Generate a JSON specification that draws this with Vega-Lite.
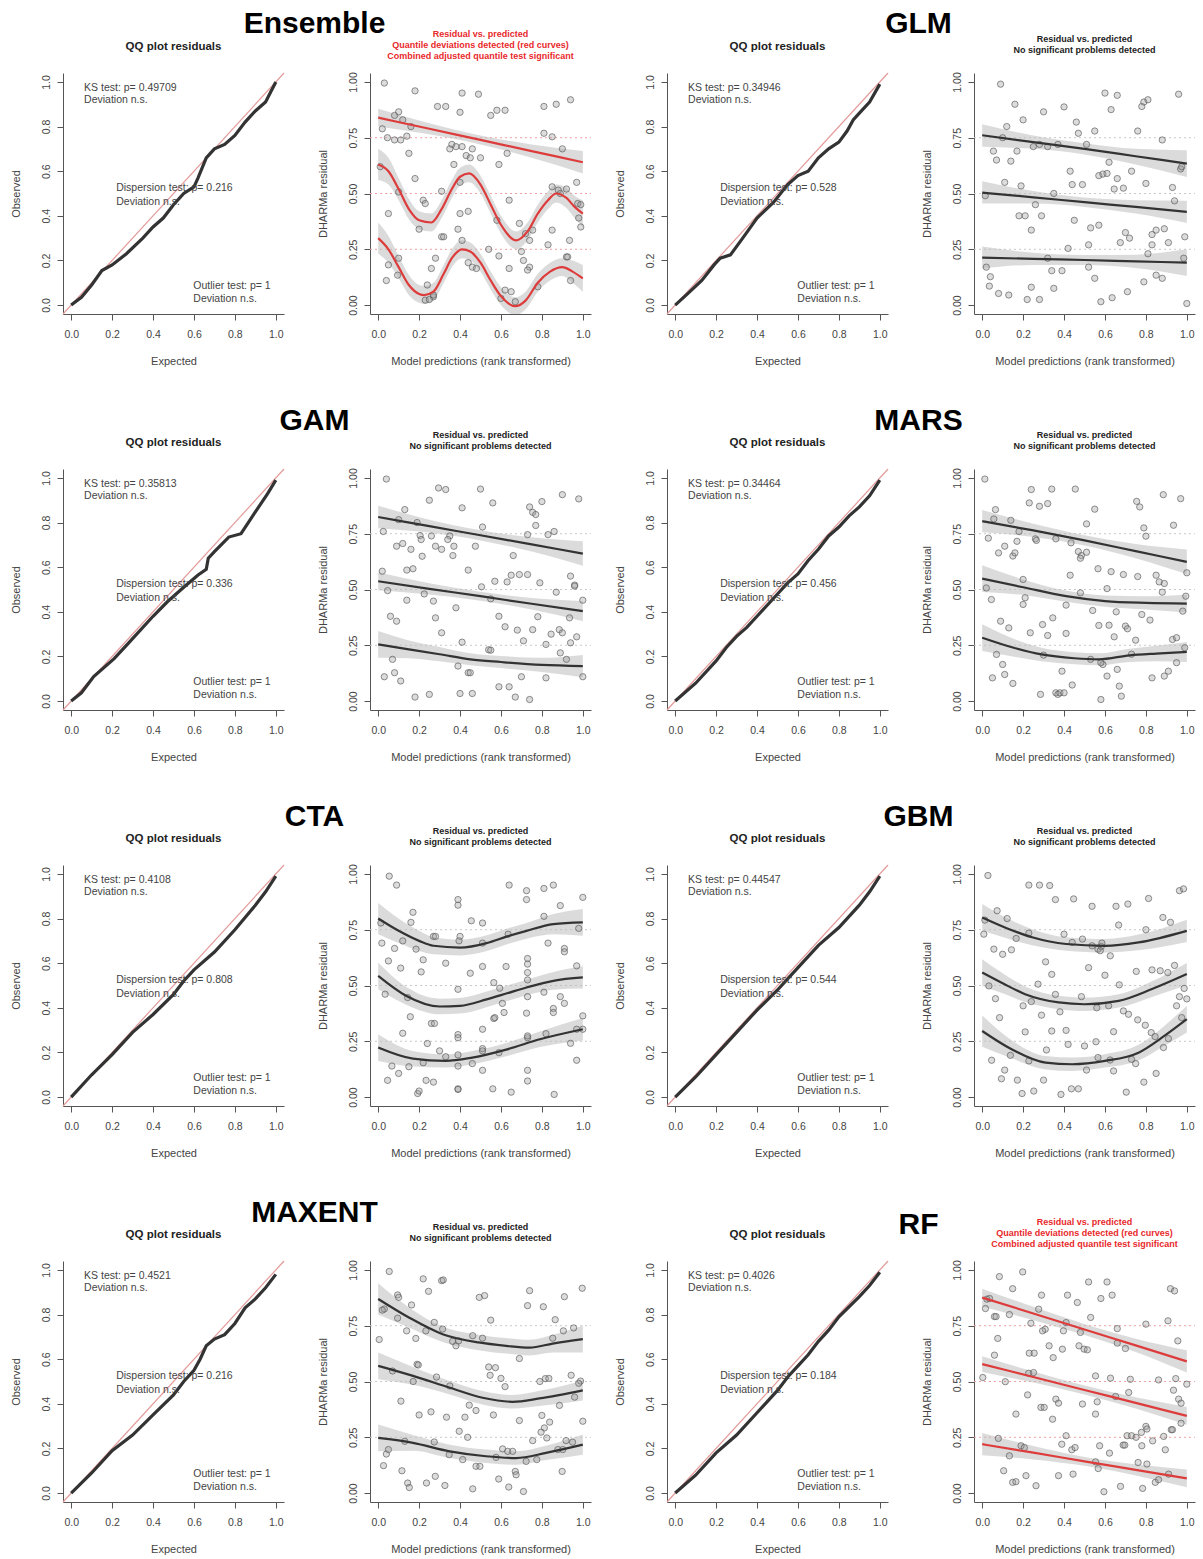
{
"$schema":"https://vega.github.io/schema/vega-lite/v6.json",
"padding":{"left":9,"top":8,"right":5,"bottom":2},
"config":{"font":"Liberation Sans","view":{"stroke":null},
"axis":{"grid":false,"domainColor":"#555","tickColor":"#555","tickSize":6,"labelFontSize":10.5,"labelColor":"#444","titleFontSize":11,"titleFontWeight":"normal","titleColor":"#444","labelFlush":false,"labelOverlap":false,"labelPadding":6},
"axisX":{"titlePadding":16,"labelPadding":9},"axisY":{"titlePadding":20,"labelAngle":270},
"title":{"font":"Liberation Sans"}},
"datasets":{
"diag":[{"x":-0.04,"y":-0.04},{"x":1.04,"y":1.04}],
"hl":[{"k":"a","x":-0.04,"y":0.25},{"k":"a","x":1.04,"y":0.25},{"k":"b","x":-0.04,"y":0.5},{"k":"b","x":1.04,"y":0.5},{"k":"c","x":-0.04,"y":0.75},{"k":"c","x":1.04,"y":0.75}],
"t":[
{"m":"E","x":0.063,"y":0.973,"t":"KS test: p= 0.49709"},{"m":"E","x":0.063,"y":0.919,"t":"Deviation  n.s."},{"m":"E","x":0.22,"y":0.525,"t":"Dispersion test: p= 0.216"},{"m":"E","x":0.22,"y":0.462,"t":"Deviation  n.s."},{"m":"E","x":0.597,"y":0.085,"t":"Outlier test: p= 1"},{"m":"E","x":0.597,"y":0.027,"t":"Deviation  n.s."},
{"m":"GLM","x":0.063,"y":0.973,"t":"KS test: p= 0.34946"},{"m":"GLM","x":0.063,"y":0.919,"t":"Deviation  n.s."},{"m":"GLM","x":0.22,"y":0.525,"t":"Dispersion test: p= 0.528"},{"m":"GLM","x":0.22,"y":0.462,"t":"Deviation  n.s."},{"m":"GLM","x":0.597,"y":0.085,"t":"Outlier test: p= 1"},{"m":"GLM","x":0.597,"y":0.027,"t":"Deviation  n.s."},
{"m":"GAM","x":0.063,"y":0.973,"t":"KS test: p= 0.35813"},{"m":"GAM","x":0.063,"y":0.919,"t":"Deviation  n.s."},{"m":"GAM","x":0.22,"y":0.525,"t":"Dispersion test: p= 0.336"},{"m":"GAM","x":0.22,"y":0.462,"t":"Deviation  n.s."},{"m":"GAM","x":0.597,"y":0.085,"t":"Outlier test: p= 1"},{"m":"GAM","x":0.597,"y":0.027,"t":"Deviation  n.s."},
{"m":"MARS","x":0.063,"y":0.973,"t":"KS test: p= 0.34464"},{"m":"MARS","x":0.063,"y":0.919,"t":"Deviation  n.s."},{"m":"MARS","x":0.22,"y":0.525,"t":"Dispersion test: p= 0.456"},{"m":"MARS","x":0.22,"y":0.462,"t":"Deviation  n.s."},{"m":"MARS","x":0.597,"y":0.085,"t":"Outlier test: p= 1"},{"m":"MARS","x":0.597,"y":0.027,"t":"Deviation  n.s."},
{"m":"CTA","x":0.063,"y":0.973,"t":"KS test: p= 0.4108"},{"m":"CTA","x":0.063,"y":0.919,"t":"Deviation  n.s."},{"m":"CTA","x":0.22,"y":0.525,"t":"Dispersion test: p= 0.808"},{"m":"CTA","x":0.22,"y":0.462,"t":"Deviation  n.s."},{"m":"CTA","x":0.597,"y":0.085,"t":"Outlier test: p= 1"},{"m":"CTA","x":0.597,"y":0.027,"t":"Deviation  n.s."},
{"m":"GBM","x":0.063,"y":0.973,"t":"KS test: p= 0.44547"},{"m":"GBM","x":0.063,"y":0.919,"t":"Deviation  n.s."},{"m":"GBM","x":0.22,"y":0.525,"t":"Dispersion test: p= 0.544"},{"m":"GBM","x":0.22,"y":0.462,"t":"Deviation  n.s."},{"m":"GBM","x":0.597,"y":0.085,"t":"Outlier test: p= 1"},{"m":"GBM","x":0.597,"y":0.027,"t":"Deviation  n.s."},
{"m":"MAX","x":0.063,"y":0.973,"t":"KS test: p= 0.4521"},{"m":"MAX","x":0.063,"y":0.919,"t":"Deviation  n.s."},{"m":"MAX","x":0.22,"y":0.525,"t":"Dispersion test: p= 0.216"},{"m":"MAX","x":0.22,"y":0.462,"t":"Deviation  n.s."},{"m":"MAX","x":0.597,"y":0.085,"t":"Outlier test: p= 1"},{"m":"MAX","x":0.597,"y":0.027,"t":"Deviation  n.s."},
{"m":"RF","x":0.063,"y":0.973,"t":"KS test: p= 0.4026"},{"m":"RF","x":0.063,"y":0.919,"t":"Deviation  n.s."},{"m":"RF","x":0.22,"y":0.525,"t":"Dispersion test: p= 0.184"},{"m":"RF","x":0.22,"y":0.462,"t":"Deviation  n.s."},{"m":"RF","x":0.597,"y":0.085,"t":"Outlier test: p= 1"},{"m":"RF","x":0.597,"y":0.027,"t":"Deviation  n.s."}
],
"qq":[
{"m":"E","x":0,"y":0},{"m":"E","x":0.05,"y":0.035},{"m":"E","x":0.1,"y":0.09},{"m":"E","x":0.15,"y":0.155},{"m":"E","x":0.2,"y":0.18},{"m":"E","x":0.27,"y":0.23},{"m":"E","x":0.35,"y":0.3},{"m":"E","x":0.4,"y":0.35},{"m":"E","x":0.45,"y":0.39},{"m":"E","x":0.5,"y":0.45},{"m":"E","x":0.55,"y":0.5},{"m":"E","x":0.6,"y":0.53},{"m":"E","x":0.62,"y":0.57},{"m":"E","x":0.66,"y":0.66},{"m":"E","x":0.7,"y":0.7},{"m":"E","x":0.75,"y":0.72},{"m":"E","x":0.8,"y":0.76},{"m":"E","x":0.85,"y":0.82},{"m":"E","x":0.9,"y":0.87},{"m":"E","x":0.95,"y":0.91},{"m":"E","x":1,"y":1},
{"m":"GLM","x":0,"y":0},{"m":"GLM","x":0.06,"y":0.05},{"m":"GLM","x":0.13,"y":0.11},{"m":"GLM","x":0.19,"y":0.18},{"m":"GLM","x":0.22,"y":0.21},{"m":"GLM","x":0.27,"y":0.225},{"m":"GLM","x":0.33,"y":0.3},{"m":"GLM","x":0.4,"y":0.39},{"m":"GLM","x":0.48,"y":0.46},{"m":"GLM","x":0.55,"y":0.54},{"m":"GLM","x":0.6,"y":0.58},{"m":"GLM","x":0.65,"y":0.6},{"m":"GLM","x":0.7,"y":0.66},{"m":"GLM","x":0.75,"y":0.7},{"m":"GLM","x":0.8,"y":0.73},{"m":"GLM","x":0.84,"y":0.78},{"m":"GLM","x":0.87,"y":0.83},{"m":"GLM","x":0.9,"y":0.86},{"m":"GLM","x":0.95,"y":0.91},{"m":"GLM","x":1,"y":0.99},
{"m":"GAM","x":0,"y":0},{"m":"GAM","x":0.05,"y":0.037},{"m":"GAM","x":0.11,"y":0.11},{"m":"GAM","x":0.21,"y":0.19},{"m":"GAM","x":0.28,"y":0.26},{"m":"GAM","x":0.4,"y":0.38},{"m":"GAM","x":0.47,"y":0.445},{"m":"GAM","x":0.55,"y":0.51},{"m":"GAM","x":0.62,"y":0.565},{"m":"GAM","x":0.66,"y":0.59},{"m":"GAM","x":0.67,"y":0.64},{"m":"GAM","x":0.7,"y":0.67},{"m":"GAM","x":0.77,"y":0.735},{"m":"GAM","x":0.83,"y":0.75},{"m":"GAM","x":0.88,"y":0.82},{"m":"GAM","x":0.96,"y":0.93},{"m":"GAM","x":1,"y":0.99},
{"m":"MARS","x":0,"y":0},{"m":"MARS","x":0.1,"y":0.08},{"m":"MARS","x":0.2,"y":0.18},{"m":"MARS","x":0.25,"y":0.24},{"m":"MARS","x":0.3,"y":0.29},{"m":"MARS","x":0.35,"y":0.33},{"m":"MARS","x":0.4,"y":0.38},{"m":"MARS","x":0.5,"y":0.48},{"m":"MARS","x":0.55,"y":0.53},{"m":"MARS","x":0.6,"y":0.57},{"m":"MARS","x":0.65,"y":0.63},{"m":"MARS","x":0.7,"y":0.68},{"m":"MARS","x":0.75,"y":0.74},{"m":"MARS","x":0.8,"y":0.78},{"m":"MARS","x":0.85,"y":0.83},{"m":"MARS","x":0.9,"y":0.87},{"m":"MARS","x":0.95,"y":0.92},{"m":"MARS","x":1,"y":0.99},
{"m":"CTA","x":0,"y":0},{"m":"CTA","x":0.1,"y":0.1},{"m":"CTA","x":0.2,"y":0.19},{"m":"CTA","x":0.3,"y":0.29},{"m":"CTA","x":0.4,"y":0.37},{"m":"CTA","x":0.5,"y":0.46},{"m":"CTA","x":0.55,"y":0.52},{"m":"CTA","x":0.6,"y":0.57},{"m":"CTA","x":0.7,"y":0.65},{"m":"CTA","x":0.8,"y":0.75},{"m":"CTA","x":0.9,"y":0.86},{"m":"CTA","x":0.95,"y":0.92},{"m":"CTA","x":1,"y":0.99},
{"m":"GBM","x":0,"y":0},{"m":"GBM","x":0.1,"y":0.09},{"m":"GBM","x":0.2,"y":0.19},{"m":"GBM","x":0.3,"y":0.29},{"m":"GBM","x":0.4,"y":0.39},{"m":"GBM","x":0.5,"y":0.48},{"m":"GBM","x":0.6,"y":0.58},{"m":"GBM","x":0.7,"y":0.68},{"m":"GBM","x":0.8,"y":0.76},{"m":"GBM","x":0.9,"y":0.86},{"m":"GBM","x":0.95,"y":0.92},{"m":"GBM","x":1,"y":0.99},
{"m":"MAX","x":0,"y":0},{"m":"MAX","x":0.1,"y":0.09},{"m":"MAX","x":0.2,"y":0.19},{"m":"MAX","x":0.3,"y":0.26},{"m":"MAX","x":0.4,"y":0.35},{"m":"MAX","x":0.5,"y":0.44},{"m":"MAX","x":0.55,"y":0.5},{"m":"MAX","x":0.6,"y":0.55},{"m":"MAX","x":0.63,"y":0.6},{"m":"MAX","x":0.66,"y":0.66},{"m":"MAX","x":0.7,"y":0.69},{"m":"MAX","x":0.75,"y":0.71},{"m":"MAX","x":0.8,"y":0.76},{"m":"MAX","x":0.85,"y":0.83},{"m":"MAX","x":0.9,"y":0.87},{"m":"MAX","x":0.95,"y":0.92},{"m":"MAX","x":1,"y":0.98},
{"m":"RF","x":0,"y":0},{"m":"RF","x":0.1,"y":0.08},{"m":"RF","x":0.2,"y":0.18},{"m":"RF","x":0.3,"y":0.26},{"m":"RF","x":0.4,"y":0.36},{"m":"RF","x":0.5,"y":0.46},{"m":"RF","x":0.55,"y":0.52},{"m":"RF","x":0.6,"y":0.57},{"m":"RF","x":0.65,"y":0.62},{"m":"RF","x":0.7,"y":0.68},{"m":"RF","x":0.75,"y":0.73},{"m":"RF","x":0.8,"y":0.79},{"m":"RF","x":0.9,"y":0.88},{"m":"RF","x":0.95,"y":0.93},{"m":"RF","x":1,"y":0.99}
],
"q":[
{"m":"E","k":"c","x":0,"y":0.84,"l":0.8,"h":0.88},{"m":"E","k":"c","x":0.25,"y":0.79,"l":0.765,"h":0.815},{"m":"E","k":"c","x":0.5,"y":0.74,"l":0.72,"h":0.76},{"m":"E","k":"c","x":0.75,"y":0.69,"l":0.66,"h":0.72},{"m":"E","k":"c","x":1,"y":0.64,"l":0.59,"h":0.69},
{"m":"E","k":"b","x":0,"y":0.63,"l":0.56,"h":0.7},{"m":"E","k":"b","x":0.05,"y":0.6,"l":0.54,"h":0.66},{"m":"E","k":"b","x":0.1,"y":0.52,"l":0.47,"h":0.57},{"m":"E","k":"b","x":0.15,"y":0.43,"l":0.385,"h":0.475},{"m":"E","k":"b","x":0.2,"y":0.38,"l":0.34,"h":0.42},{"m":"E","k":"b","x":0.26,"y":0.37,"l":0.33,"h":0.41},{"m":"E","k":"b","x":0.31,"y":0.43,"l":0.39,"h":0.47},{"m":"E","k":"b","x":0.36,"y":0.52,"l":0.48,"h":0.56},{"m":"E","k":"b","x":0.4,"y":0.575,"l":0.535,"h":0.615},{"m":"E","k":"b","x":0.445,"y":0.59,"l":0.55,"h":0.63},{"m":"E","k":"b","x":0.5,"y":0.54,"l":0.5,"h":0.58},{"m":"E","k":"b","x":0.55,"y":0.45,"l":0.41,"h":0.49},{"m":"E","k":"b","x":0.6,"y":0.36,"l":0.32,"h":0.4},{"m":"E","k":"b","x":0.675,"y":0.29,"l":0.25,"h":0.33},{"m":"E","k":"b","x":0.73,"y":0.33,"l":0.29,"h":0.37},{"m":"E","k":"b","x":0.78,"y":0.41,"l":0.37,"h":0.45},{"m":"E","k":"b","x":0.83,"y":0.47,"l":0.43,"h":0.51},{"m":"E","k":"b","x":0.87,"y":0.5,"l":0.46,"h":0.54},{"m":"E","k":"b","x":0.92,"y":0.48,"l":0.435,"h":0.525},{"m":"E","k":"b","x":0.96,"y":0.44,"l":0.39,"h":0.49},{"m":"E","k":"b","x":1,"y":0.41,"l":0.35,"h":0.47},
{"m":"E","k":"a","x":0,"y":0.3,"l":0.23,"h":0.37},{"m":"E","k":"a","x":0.05,"y":0.25,"l":0.19,"h":0.31},{"m":"E","k":"a","x":0.1,"y":0.17,"l":0.12,"h":0.22},{"m":"E","k":"a","x":0.15,"y":0.09,"l":0.045,"h":0.135},{"m":"E","k":"a","x":0.2,"y":0.05,"l":0.01,"h":0.09},{"m":"E","k":"a","x":0.225,"y":0.045,"l":0.005,"h":0.085},{"m":"E","k":"a","x":0.27,"y":0.06,"l":0.02,"h":0.1},{"m":"E","k":"a","x":0.32,"y":0.14,"l":0.1,"h":0.18},{"m":"E","k":"a","x":0.36,"y":0.21,"l":0.17,"h":0.25},{"m":"E","k":"a","x":0.41,"y":0.25,"l":0.21,"h":0.29},{"m":"E","k":"a","x":0.45,"y":0.24,"l":0.2,"h":0.28},{"m":"E","k":"a","x":0.5,"y":0.19,"l":0.15,"h":0.23},{"m":"E","k":"a","x":0.55,"y":0.11,"l":0.07,"h":0.15},{"m":"E","k":"a","x":0.6,"y":0.04,"l":0,"h":0.08},{"m":"E","k":"a","x":0.67,"y":-0.005,"l":-0.045,"h":0.035},{"m":"E","k":"a","x":0.72,"y":0.02,"l":-0.02,"h":0.06},{"m":"E","k":"a","x":0.78,"y":0.1,"l":0.06,"h":0.14},{"m":"E","k":"a","x":0.84,"y":0.15,"l":0.11,"h":0.19},{"m":"E","k":"a","x":0.9,"y":0.17,"l":0.13,"h":0.21},{"m":"E","k":"a","x":0.95,"y":0.15,"l":0.1,"h":0.2},{"m":"E","k":"a","x":1,"y":0.12,"l":0.06,"h":0.18},
{"m":"GLM","k":"c","x":0,"y":0.761,"l":0.71,"h":0.81},{"m":"GLM","k":"c","x":0.25,"y":0.73,"l":0.7,"h":0.76},{"m":"GLM","k":"c","x":0.5,"y":0.7,"l":0.675,"h":0.725},{"m":"GLM","k":"c","x":0.75,"y":0.667,"l":0.63,"h":0.7},{"m":"GLM","k":"c","x":1,"y":0.634,"l":0.574,"h":0.694},
{"m":"GLM","k":"b","x":0,"y":0.504,"l":0.455,"h":0.555},{"m":"GLM","k":"b","x":0.25,"y":0.483,"l":0.455,"h":0.511},{"m":"GLM","k":"b","x":0.5,"y":0.461,"l":0.44,"h":0.482},{"m":"GLM","k":"b","x":0.75,"y":0.44,"l":0.41,"h":0.47},{"m":"GLM","k":"b","x":1,"y":0.418,"l":0.368,"h":0.468},
{"m":"GLM","k":"a","x":0,"y":0.213,"l":0.163,"h":0.263},{"m":"GLM","k":"a","x":0.25,"y":0.207,"l":0.18,"h":0.234},{"m":"GLM","k":"a","x":0.5,"y":0.202,"l":0.18,"h":0.224},{"m":"GLM","k":"a","x":0.75,"y":0.196,"l":0.166,"h":0.226},{"m":"GLM","k":"a","x":1,"y":0.19,"l":0.13,"h":0.25},
{"m":"GAM","k":"c","x":0,"y":0.825,"l":0.775,"h":0.875},{"m":"GAM","k":"c","x":0.25,"y":0.784,"l":0.755,"h":0.813},{"m":"GAM","k":"c","x":0.5,"y":0.743,"l":0.72,"h":0.766},{"m":"GAM","k":"c","x":0.75,"y":0.702,"l":0.67,"h":0.734},{"m":"GAM","k":"c","x":1,"y":0.661,"l":0.606,"h":0.716},
{"m":"GAM","k":"b","x":0,"y":0.537,"l":0.497,"h":0.577},{"m":"GAM","k":"b","x":0.25,"y":0.503,"l":0.478,"h":0.528},{"m":"GAM","k":"b","x":0.5,"y":0.47,"l":0.45,"h":0.49},{"m":"GAM","k":"b","x":0.75,"y":0.436,"l":0.41,"h":0.462},{"m":"GAM","k":"b","x":1,"y":0.403,"l":0.358,"h":0.448},
{"m":"GAM","k":"a","x":0,"y":0.254,"l":0.194,"h":0.314},{"m":"GAM","k":"a","x":0.15,"y":0.232,"l":0.192,"h":0.272},{"m":"GAM","k":"a","x":0.3,"y":0.21,"l":0.178,"h":0.242},{"m":"GAM","k":"a","x":0.45,"y":0.187,"l":0.16,"h":0.214},{"m":"GAM","k":"a","x":0.6,"y":0.175,"l":0.148,"h":0.202},{"m":"GAM","k":"a","x":0.8,"y":0.162,"l":0.13,"h":0.194},{"m":"GAM","k":"a","x":1,"y":0.157,"l":0.107,"h":0.207},
{"m":"MARS","k":"c","x":0,"y":0.806,"l":0.756,"h":0.856},{"m":"MARS","k":"c","x":0.25,"y":0.765,"l":0.735,"h":0.795},{"m":"MARS","k":"c","x":0.5,"y":0.72,"l":0.697,"h":0.743},{"m":"MARS","k":"c","x":0.75,"y":0.672,"l":0.64,"h":0.704},{"m":"MARS","k":"c","x":1,"y":0.624,"l":0.569,"h":0.679},
{"m":"MARS","k":"b","x":0,"y":0.549,"l":0.489,"h":0.609},{"m":"MARS","k":"b","x":0.2,"y":0.51,"l":0.475,"h":0.545},{"m":"MARS","k":"b","x":0.41,"y":0.47,"l":0.445,"h":0.495},{"m":"MARS","k":"b","x":0.6,"y":0.448,"l":0.423,"h":0.473},{"m":"MARS","k":"b","x":0.8,"y":0.44,"l":0.41,"h":0.47},{"m":"MARS","k":"b","x":1,"y":0.437,"l":0.397,"h":0.477},
{"m":"MARS","k":"a","x":0,"y":0.284,"l":0.224,"h":0.344},{"m":"MARS","k":"a","x":0.15,"y":0.24,"l":0.2,"h":0.28},{"m":"MARS","k":"a","x":0.29,"y":0.209,"l":0.179,"h":0.239},{"m":"MARS","k":"a","x":0.45,"y":0.192,"l":0.165,"h":0.219},{"m":"MARS","k":"a","x":0.57,"y":0.187,"l":0.16,"h":0.214},{"m":"MARS","k":"a","x":0.72,"y":0.205,"l":0.175,"h":0.235},{"m":"MARS","k":"a","x":0.85,"y":0.213,"l":0.178,"h":0.248},{"m":"MARS","k":"a","x":1,"y":0.22,"l":0.175,"h":0.265},
{"m":"CTA","k":"c","x":0,"y":0.8,"l":0.73,"h":0.87},{"m":"CTA","k":"c","x":0.1,"y":0.745,"l":0.69,"h":0.8},{"m":"CTA","k":"c","x":0.2,"y":0.7,"l":0.655,"h":0.745},{"m":"CTA","k":"c","x":0.27,"y":0.678,"l":0.64,"h":0.716},{"m":"CTA","k":"c","x":0.4,"y":0.67,"l":0.635,"h":0.705},{"m":"CTA","k":"c","x":0.53,"y":0.69,"l":0.655,"h":0.725},{"m":"CTA","k":"c","x":0.63,"y":0.72,"l":0.685,"h":0.755},{"m":"CTA","k":"c","x":0.725,"y":0.745,"l":0.71,"h":0.78},{"m":"CTA","k":"c","x":0.856,"y":0.775,"l":0.73,"h":0.82},{"m":"CTA","k":"c","x":1,"y":0.783,"l":0.723,"h":0.843},
{"m":"CTA","k":"b","x":0,"y":0.543,"l":0.483,"h":0.603},{"m":"CTA","k":"b","x":0.136,"y":0.454,"l":0.414,"h":0.494},{"m":"CTA","k":"b","x":0.3,"y":0.406,"l":0.371,"h":0.441},{"m":"CTA","k":"b","x":0.4,"y":0.409,"l":0.374,"h":0.444},{"m":"CTA","k":"b","x":0.53,"y":0.438,"l":0.403,"h":0.473},{"m":"CTA","k":"b","x":0.63,"y":0.465,"l":0.43,"h":0.5},{"m":"CTA","k":"b","x":0.725,"y":0.491,"l":0.456,"h":0.526},{"m":"CTA","k":"b","x":0.856,"y":0.521,"l":0.481,"h":0.561},{"m":"CTA","k":"b","x":1,"y":0.536,"l":0.486,"h":0.586},
{"m":"CTA","k":"a","x":0,"y":0.222,"l":0.162,"h":0.282},{"m":"CTA","k":"a","x":0.17,"y":0.172,"l":0.137,"h":0.207},{"m":"CTA","k":"a","x":0.33,"y":0.162,"l":0.132,"h":0.192},{"m":"CTA","k":"a","x":0.46,"y":0.177,"l":0.147,"h":0.207},{"m":"CTA","k":"a","x":0.63,"y":0.214,"l":0.184,"h":0.244},{"m":"CTA","k":"a","x":0.79,"y":0.259,"l":0.224,"h":0.294},{"m":"CTA","k":"a","x":1,"y":0.304,"l":0.254,"h":0.354},
{"m":"GBM","k":"c","x":0,"y":0.805,"l":0.745,"h":0.865},{"m":"GBM","k":"c","x":0.12,"y":0.757,"l":0.712,"h":0.802},{"m":"GBM","k":"c","x":0.244,"y":0.716,"l":0.68,"h":0.752},{"m":"GBM","k":"c","x":0.41,"y":0.686,"l":0.656,"h":0.716},{"m":"GBM","k":"c","x":0.6,"y":0.678,"l":0.648,"h":0.708},{"m":"GBM","k":"c","x":0.764,"y":0.693,"l":0.658,"h":0.728},{"m":"GBM","k":"c","x":1,"y":0.745,"l":0.695,"h":0.795},
{"m":"GBM","k":"b","x":0,"y":0.558,"l":0.498,"h":0.618},{"m":"GBM","k":"b","x":0.1,"y":0.51,"l":0.465,"h":0.555},{"m":"GBM","k":"b","x":0.21,"y":0.461,"l":0.426,"h":0.496},{"m":"GBM","k":"b","x":0.374,"y":0.424,"l":0.394,"h":0.454},{"m":"GBM","k":"b","x":0.5,"y":0.416,"l":0.386,"h":0.446},{"m":"GBM","k":"b","x":0.667,"y":0.431,"l":0.401,"h":0.461},{"m":"GBM","k":"b","x":0.83,"y":0.484,"l":0.449,"h":0.519},{"m":"GBM","k":"b","x":1,"y":0.551,"l":0.501,"h":0.601},
{"m":"GBM","k":"a","x":0,"y":0.296,"l":0.226,"h":0.366},{"m":"GBM","k":"a","x":0.146,"y":0.213,"l":0.173,"h":0.253},{"m":"GBM","k":"a","x":0.31,"y":0.154,"l":0.124,"h":0.184},{"m":"GBM","k":"a","x":0.44,"y":0.147,"l":0.117,"h":0.177},{"m":"GBM","k":"a","x":0.6,"y":0.162,"l":0.132,"h":0.192},{"m":"GBM","k":"a","x":0.764,"y":0.199,"l":0.164,"h":0.234},{"m":"GBM","k":"a","x":0.89,"y":0.274,"l":0.229,"h":0.319},{"m":"GBM","k":"a","x":1,"y":0.349,"l":0.289,"h":0.409},
{"m":"MAX","k":"c","x":0,"y":0.87,"l":0.8,"h":0.94},{"m":"MAX","k":"c","x":0.15,"y":0.787,"l":0.742,"h":0.832},{"m":"MAX","k":"c","x":0.315,"y":0.712,"l":0.677,"h":0.747},{"m":"MAX","k":"c","x":0.49,"y":0.675,"l":0.64,"h":0.71},{"m":"MAX","k":"c","x":0.625,"y":0.66,"l":0.625,"h":0.695},{"m":"MAX","k":"c","x":0.74,"y":0.652,"l":0.617,"h":0.687},{"m":"MAX","k":"c","x":0.853,"y":0.67,"l":0.63,"h":0.71},{"m":"MAX","k":"c","x":1,"y":0.69,"l":0.63,"h":0.75},
{"m":"MAX","k":"b","x":0,"y":0.57,"l":0.51,"h":0.63},{"m":"MAX","k":"b","x":0.17,"y":0.525,"l":0.485,"h":0.565},{"m":"MAX","k":"b","x":0.35,"y":0.472,"l":0.442,"h":0.502},{"m":"MAX","k":"b","x":0.51,"y":0.427,"l":0.397,"h":0.457},{"m":"MAX","k":"b","x":0.657,"y":0.409,"l":0.379,"h":0.439},{"m":"MAX","k":"b","x":0.788,"y":0.424,"l":0.39,"h":0.458},{"m":"MAX","k":"b","x":1,"y":0.46,"l":0.415,"h":0.505},
{"m":"MAX","k":"a","x":0,"y":0.247,"l":0.187,"h":0.307},{"m":"MAX","k":"a","x":0.17,"y":0.225,"l":0.19,"h":0.26},{"m":"MAX","k":"a","x":0.35,"y":0.187,"l":0.157,"h":0.217},{"m":"MAX","k":"a","x":0.527,"y":0.165,"l":0.135,"h":0.195},{"m":"MAX","k":"a","x":0.674,"y":0.157,"l":0.127,"h":0.187},{"m":"MAX","k":"a","x":0.82,"y":0.18,"l":0.148,"h":0.212},{"m":"MAX","k":"a","x":1,"y":0.217,"l":0.172,"h":0.262},
{"m":"RF","k":"c","x":0,"y":0.876,"l":0.836,"h":0.916},{"m":"RF","k":"c","x":0.25,"y":0.805,"l":0.775,"h":0.835},{"m":"RF","k":"c","x":0.5,"y":0.733,"l":0.708,"h":0.758},{"m":"RF","k":"c","x":0.75,"y":0.662,"l":0.632,"h":0.692},{"m":"RF","k":"c","x":1,"y":0.59,"l":0.54,"h":0.64},
{"m":"RF","k":"b","x":0,"y":0.578,"l":0.543,"h":0.613},{"m":"RF","k":"b","x":0.25,"y":0.52,"l":0.495,"h":0.545},{"m":"RF","k":"b","x":0.5,"y":0.462,"l":0.442,"h":0.482},{"m":"RF","k":"b","x":0.75,"y":0.404,"l":0.379,"h":0.429},{"m":"RF","k":"b","x":1,"y":0.346,"l":0.306,"h":0.386},
{"m":"RF","k":"a","x":0,"y":0.219,"l":0.169,"h":0.269},{"m":"RF","k":"a","x":0.25,"y":0.181,"l":0.151,"h":0.211},{"m":"RF","k":"a","x":0.5,"y":0.142,"l":0.122,"h":0.162},{"m":"RF","k":"a","x":0.75,"y":0.104,"l":0.079,"h":0.129},{"m":"RF","k":"a","x":1,"y":0.066,"l":0.026,"h":0.106}
],
"p":[
{"m":"E","x":0.03,"y":0.995},{"m":"E","x":0.18,"y":0.96},{"m":"E","x":0.41,"y":0.95},{"m":"E","x":0.49,"y":0.945},{"m":"E","x":0.29,"y":0.89},{"m":"E","x":0.33,"y":0.89},{"m":"E","x":0.4,"y":0.864},{"m":"E","x":0.58,"y":0.873},{"m":"E","x":0.55,"y":0.85},{"m":"E","x":0.62,"y":0.873},{"m":"E","x":0.81,"y":0.89},{"m":"E","x":0.87,"y":0.9},{"m":"E","x":0.94,"y":0.92},{"m":"E","x":0.08,"y":0.85},{"m":"E","x":0.1,"y":0.866},{"m":"E","x":0.12,"y":0.83},{"m":"E","x":0.16,"y":0.8},{"m":"E","x":0.02,"y":0.79},{"m":"E","x":0.045,"y":0.75},{"m":"E","x":0.08,"y":0.74},{"m":"E","x":0.11,"y":0.74},{"m":"E","x":0.14,"y":0.757},{"m":"E","x":0.15,"y":0.68},{"m":"E","x":0.01,"y":0.62},{"m":"E","x":0.18,"y":0.567},{"m":"E","x":0.1,"y":0.507},{"m":"E","x":0.05,"y":0.41},{"m":"E","x":0.22,"y":0.47},{"m":"E","x":0.23,"y":0.455},{"m":"E","x":0.2,"y":0.34},{"m":"E","x":0.1,"y":0.21},{"m":"E","x":0.05,"y":0.18},{"m":"E","x":0.04,"y":0.11},{"m":"E","x":0.095,"y":0.134},{"m":"E","x":0.36,"y":0.72},{"m":"E","x":0.38,"y":0.71},{"m":"E","x":0.41,"y":0.71},{"m":"E","x":0.35,"y":0.7},{"m":"E","x":0.46,"y":0.7},{"m":"E","x":0.43,"y":0.67},{"m":"E","x":0.45,"y":0.66},{"m":"E","x":0.37,"y":0.63},{"m":"E","x":0.31,"y":0.51},{"m":"E","x":0.4,"y":0.41},{"m":"E","x":0.31,"y":0.306},{"m":"E","x":0.32,"y":0.306},{"m":"E","x":0.39,"y":0.34},{"m":"E","x":0.28,"y":0.21},{"m":"E","x":0.26,"y":0.164},{"m":"E","x":0.24,"y":0.09},{"m":"E","x":0.27,"y":0.037},{"m":"E","x":0.23,"y":0.022},{"m":"E","x":0.25,"y":0.025},{"m":"E","x":0.27,"y":0.045},{"m":"E","x":0.44,"y":0.19},{"m":"E","x":0.46,"y":0.17},{"m":"E","x":0.48,"y":0.164},{"m":"E","x":0.41,"y":0.29},{"m":"E","x":0.4,"y":0.55},{"m":"E","x":0.44,"y":0.42},{"m":"E","x":0.54,"y":0.25},{"m":"E","x":0.59,"y":0.22},{"m":"E","x":0.62,"y":0.067},{"m":"E","x":0.6,"y":0.03},{"m":"E","x":0.65,"y":0.06},{"m":"E","x":0.67,"y":0.015},{"m":"E","x":0.64,"y":0.164},{"m":"E","x":0.63,"y":0.68},{"m":"E","x":0.59,"y":0.63},{"m":"E","x":0.64,"y":0.47},{"m":"E","x":0.58,"y":0.38},{"m":"E","x":0.69,"y":0.366},{"m":"E","x":0.72,"y":0.32},{"m":"E","x":0.755,"y":0.336},{"m":"E","x":0.74,"y":0.29},{"m":"E","x":0.71,"y":0.2},{"m":"E","x":0.74,"y":0.17},{"m":"E","x":0.73,"y":0.157},{"m":"E","x":0.7,"y":0.24},{"m":"E","x":0.78,"y":0.082},{"m":"E","x":0.83,"y":0.27},{"m":"E","x":0.85,"y":0.336},{"m":"E","x":0.85,"y":0.53},{"m":"E","x":0.88,"y":0.515},{"m":"E","x":0.92,"y":0.52},{"m":"E","x":0.89,"y":0.5},{"m":"E","x":0.97,"y":0.55},{"m":"E","x":0.975,"y":0.455},{"m":"E","x":0.99,"y":0.45},{"m":"E","x":0.98,"y":0.39},{"m":"E","x":0.99,"y":0.35},{"m":"E","x":0.935,"y":0.29},{"m":"E","x":0.92,"y":0.216},{"m":"E","x":0.926,"y":0.216},{"m":"E","x":0.94,"y":0.11},{"m":"E","x":0.81,"y":0.77},{"m":"E","x":0.85,"y":0.754},{"m":"E","x":0.9,"y":0.7},{"m":"E","x":0.5,"y":0.66},
{"m":"GLM","x":0.09,"y":0.99},{"m":"GLM","x":0.6,"y":0.95},{"m":"GLM","x":0.66,"y":0.94},{"m":"GLM","x":0.96,"y":0.945},{"m":"GLM","x":0.78,"y":0.89},{"m":"GLM","x":0.79,"y":0.91},{"m":"GLM","x":0.81,"y":0.92},{"m":"GLM","x":0.16,"y":0.9},{"m":"GLM","x":0.3,"y":0.866},{"m":"GLM","x":0.4,"y":0.888},{"m":"GLM","x":0.2,"y":0.83},{"m":"GLM","x":0.46,"y":0.82},{"m":"GLM","x":0.63,"y":0.876},{"m":"GLM","x":0.47,"y":0.77},{"m":"GLM","x":0.55,"y":0.78},{"m":"GLM","x":0.76,"y":0.78},{"m":"GLM","x":0.88,"y":0.74},{"m":"GLM","x":0.12,"y":0.8},{"m":"GLM","x":0.1,"y":0.75},{"m":"GLM","x":0.055,"y":0.69},{"m":"GLM","x":0.07,"y":0.65},{"m":"GLM","x":0.14,"y":0.645},{"m":"GLM","x":0.17,"y":0.69},{"m":"GLM","x":0.25,"y":0.71},{"m":"GLM","x":0.28,"y":0.72},{"m":"GLM","x":0.32,"y":0.71},{"m":"GLM","x":0.37,"y":0.72},{"m":"GLM","x":0.51,"y":0.72},{"m":"GLM","x":0.62,"y":0.64},{"m":"GLM","x":0.43,"y":0.6},{"m":"GLM","x":0.57,"y":0.58},{"m":"GLM","x":0.59,"y":0.587},{"m":"GLM","x":0.61,"y":0.59},{"m":"GLM","x":0.66,"y":0.567},{"m":"GLM","x":0.73,"y":0.6},{"m":"GLM","x":0.97,"y":0.61},{"m":"GLM","x":0.975,"y":0.62},{"m":"GLM","x":0.11,"y":0.55},{"m":"GLM","x":0.19,"y":0.534},{"m":"GLM","x":0.49,"y":0.54},{"m":"GLM","x":0.44,"y":0.54},{"m":"GLM","x":0.645,"y":0.52},{"m":"GLM","x":0.69,"y":0.524},{"m":"GLM","x":0.8,"y":0.545},{"m":"GLM","x":0.93,"y":0.527},{"m":"GLM","x":0.94,"y":0.467},{"m":"GLM","x":0.35,"y":0.5},{"m":"GLM","x":0.015,"y":0.49},{"m":"GLM","x":0.26,"y":0.45},{"m":"GLM","x":0.18,"y":0.4},{"m":"GLM","x":0.21,"y":0.4},{"m":"GLM","x":0.29,"y":0.4},{"m":"GLM","x":0.24,"y":0.336},{"m":"GLM","x":0.45,"y":0.38},{"m":"GLM","x":0.53,"y":0.346},{"m":"GLM","x":0.57,"y":0.358},{"m":"GLM","x":0.7,"y":0.325},{"m":"GLM","x":0.72,"y":0.3},{"m":"GLM","x":0.675,"y":0.28},{"m":"GLM","x":0.83,"y":0.316},{"m":"GLM","x":0.85,"y":0.336},{"m":"GLM","x":0.89,"y":0.342},{"m":"GLM","x":0.91,"y":0.28},{"m":"GLM","x":0.99,"y":0.306},{"m":"GLM","x":0.52,"y":0.27},{"m":"GLM","x":0.83,"y":0.27},{"m":"GLM","x":0.81,"y":0.23},{"m":"GLM","x":0.42,"y":0.254},{"m":"GLM","x":0.32,"y":0.21},{"m":"GLM","x":0.39,"y":0.154},{"m":"GLM","x":0.34,"y":0.154},{"m":"GLM","x":0.52,"y":0.17},{"m":"GLM","x":0.55,"y":0.12},{"m":"GLM","x":0.02,"y":0.17},{"m":"GLM","x":0.04,"y":0.127},{"m":"GLM","x":0.035,"y":0.085},{"m":"GLM","x":0.08,"y":0.052},{"m":"GLM","x":0.13,"y":0.045},{"m":"GLM","x":0.22,"y":0.025},{"m":"GLM","x":0.28,"y":0.025},{"m":"GLM","x":0.24,"y":0.08},{"m":"GLM","x":0.35,"y":0.075},{"m":"GLM","x":0.58,"y":0.015},{"m":"GLM","x":0.635,"y":0.033},{"m":"GLM","x":0.71,"y":0.06},{"m":"GLM","x":0.79,"y":0.104},{"m":"GLM","x":0.85,"y":0.134},{"m":"GLM","x":0.88,"y":0.12},{"m":"GLM","x":0.985,"y":0.21},{"m":"GLM","x":1,"y":0.007},
{"m":"GAM","x":0.04,"y":0.995},{"m":"GAM","x":0.295,"y":0.955},{"m":"GAM","x":0.33,"y":0.948},{"m":"GAM","x":0.5,"y":0.95},{"m":"GAM","x":0.25,"y":0.9},{"m":"GAM","x":0.41,"y":0.866},{"m":"GAM","x":0.56,"y":0.888},{"m":"GAM","x":0.74,"y":0.87},{"m":"GAM","x":0.755,"y":0.846},{"m":"GAM","x":0.77,"y":0.836},{"m":"GAM","x":0.8,"y":0.894},{"m":"GAM","x":0.9,"y":0.925},{"m":"GAM","x":0.98,"y":0.906},{"m":"GAM","x":0.13,"y":0.858},{"m":"GAM","x":0.1,"y":0.813},{"m":"GAM","x":0.19,"y":0.8},{"m":"GAM","x":0.025,"y":0.76},{"m":"GAM","x":0.51,"y":0.78},{"m":"GAM","x":0.77,"y":0.787},{"m":"GAM","x":0.73,"y":0.746},{"m":"GAM","x":0.83,"y":0.746},{"m":"GAM","x":0.86,"y":0.76},{"m":"GAM","x":0.205,"y":0.742},{"m":"GAM","x":0.21,"y":0.724},{"m":"GAM","x":0.26,"y":0.74},{"m":"GAM","x":0.35,"y":0.74},{"m":"GAM","x":0.34,"y":0.724},{"m":"GAM","x":0.09,"y":0.694},{"m":"GAM","x":0.12,"y":0.706},{"m":"GAM","x":0.16,"y":0.68},{"m":"GAM","x":0.28,"y":0.694},{"m":"GAM","x":0.31,"y":0.68},{"m":"GAM","x":0.37,"y":0.694},{"m":"GAM","x":0.365,"y":0.652},{"m":"GAM","x":0.215,"y":0.649},{"m":"GAM","x":0.475,"y":0.694},{"m":"GAM","x":0.66,"y":0.652},{"m":"GAM","x":0.02,"y":0.582},{"m":"GAM","x":0.14,"y":0.587},{"m":"GAM","x":0.17,"y":0.593},{"m":"GAM","x":0.44,"y":0.587},{"m":"GAM","x":0.57,"y":0.537},{"m":"GAM","x":0.63,"y":0.534},{"m":"GAM","x":0.65,"y":0.564},{"m":"GAM","x":0.69,"y":0.567},{"m":"GAM","x":0.73,"y":0.567},{"m":"GAM","x":0.79,"y":0.53},{"m":"GAM","x":0.87,"y":0.488},{"m":"GAM","x":0.94,"y":0.56},{"m":"GAM","x":0.96,"y":0.52},{"m":"GAM","x":0.96,"y":0.515},{"m":"GAM","x":0.046,"y":0.495},{"m":"GAM","x":0.225,"y":0.48},{"m":"GAM","x":0.14,"y":0.452},{"m":"GAM","x":0.27,"y":0.448},{"m":"GAM","x":0.505,"y":0.512},{"m":"GAM","x":0.55,"y":0.458},{"m":"GAM","x":0.38,"y":0.418},{"m":"GAM","x":1,"y":0.452},{"m":"GAM","x":0.06,"y":0.38},{"m":"GAM","x":0.09,"y":0.358},{"m":"GAM","x":0.28,"y":0.373},{"m":"GAM","x":0.31,"y":0.306},{"m":"GAM","x":0.59,"y":0.38},{"m":"GAM","x":0.62,"y":0.333},{"m":"GAM","x":0.68,"y":0.318},{"m":"GAM","x":0.755,"y":0.32},{"m":"GAM","x":0.78,"y":0.378},{"m":"GAM","x":0.885,"y":0.32},{"m":"GAM","x":0.9,"y":0.306},{"m":"GAM","x":0.935,"y":0.373},{"m":"GAM","x":0.845,"y":0.3},{"m":"GAM","x":0.97,"y":0.288},{"m":"GAM","x":0.94,"y":0.261},{"m":"GAM","x":0.71,"y":0.27},{"m":"GAM","x":0.82,"y":0.254},{"m":"GAM","x":0.41,"y":0.264},{"m":"GAM","x":0.54,"y":0.23},{"m":"GAM","x":0.55,"y":0.228},{"m":"GAM","x":0.92,"y":0.187},{"m":"GAM","x":0.89,"y":0.216},{"m":"GAM","x":0.07,"y":0.187},{"m":"GAM","x":0.39,"y":0.157},{"m":"GAM","x":0.44,"y":0.127},{"m":"GAM","x":0.45,"y":0.127},{"m":"GAM","x":0.7,"y":0.109},{"m":"GAM","x":0.03,"y":0.109},{"m":"GAM","x":0.08,"y":0.127},{"m":"GAM","x":0.11,"y":0.09},{"m":"GAM","x":0.59,"y":0.064},{"m":"GAM","x":0.64,"y":0.064},{"m":"GAM","x":0.82,"y":0.104},{"m":"GAM","x":1,"y":0.109},{"m":"GAM","x":0.18,"y":0.018},{"m":"GAM","x":0.25,"y":0.03},{"m":"GAM","x":0.4,"y":0.034},{"m":"GAM","x":0.46,"y":0.034},{"m":"GAM","x":0.67,"y":0.018},{"m":"GAM","x":0.74,"y":0.007},
{"m":"MARS","x":0.013,"y":0.995},{"m":"MARS","x":0.24,"y":0.948},{"m":"MARS","x":0.34,"y":0.95},{"m":"MARS","x":0.455,"y":0.95},{"m":"MARS","x":0.23,"y":0.888},{"m":"MARS","x":0.28,"y":0.873},{"m":"MARS","x":0.32,"y":0.885},{"m":"MARS","x":0.065,"y":0.858},{"m":"MARS","x":0.057,"y":0.816},{"m":"MARS","x":0.14,"y":0.81},{"m":"MARS","x":0.55,"y":0.86},{"m":"MARS","x":0.51,"y":0.794},{"m":"MARS","x":0.755,"y":0.895},{"m":"MARS","x":0.77,"y":0.87},{"m":"MARS","x":0.885,"y":0.925},{"m":"MARS","x":0.97,"y":0.907},{"m":"MARS","x":0.935,"y":0.788},{"m":"MARS","x":0.03,"y":0.73},{"m":"MARS","x":0.18,"y":0.76},{"m":"MARS","x":0.17,"y":0.716},{"m":"MARS","x":0.26,"y":0.727},{"m":"MARS","x":0.265,"y":0.72},{"m":"MARS","x":0.36,"y":0.727},{"m":"MARS","x":0.434,"y":0.709},{"m":"MARS","x":0.47,"y":0.67},{"m":"MARS","x":0.485,"y":0.652},{"m":"MARS","x":0.48,"y":0.64},{"m":"MARS","x":0.51,"y":0.667},{"m":"MARS","x":0.08,"y":0.664},{"m":"MARS","x":0.11,"y":0.694},{"m":"MARS","x":0.15,"y":0.65},{"m":"MARS","x":0.16,"y":0.664},{"m":"MARS","x":0.79,"y":0.776},{"m":"MARS","x":0.8,"y":0.739},{"m":"MARS","x":0.566,"y":0.593},{"m":"MARS","x":0.63,"y":0.58},{"m":"MARS","x":0.69,"y":0.567},{"m":"MARS","x":0.76,"y":0.558},{"m":"MARS","x":0.85,"y":0.564},{"m":"MARS","x":0.865,"y":0.534},{"m":"MARS","x":0.89,"y":0.527},{"m":"MARS","x":0.88,"y":0.488},{"m":"MARS","x":1,"y":0.575},{"m":"MARS","x":0.02,"y":0.507},{"m":"MARS","x":0.045,"y":0.455},{"m":"MARS","x":0.2,"y":0.545},{"m":"MARS","x":0.21,"y":0.463},{"m":"MARS","x":0.2,"y":0.433},{"m":"MARS","x":0.43,"y":0.564},{"m":"MARS","x":0.48,"y":0.485},{"m":"MARS","x":0.41,"y":0.43},{"m":"MARS","x":0.54,"y":0.406},{"m":"MARS","x":0.61,"y":0.504},{"m":"MARS","x":0.655,"y":0.4},{"m":"MARS","x":0.78,"y":0.388},{"m":"MARS","x":0.995,"y":0.47},{"m":"MARS","x":0.98,"y":0.403},{"m":"MARS","x":0.09,"y":0.358},{"m":"MARS","x":0.13,"y":0.328},{"m":"MARS","x":0.235,"y":0.306},{"m":"MARS","x":0.295,"y":0.343},{"m":"MARS","x":0.32,"y":0.294},{"m":"MARS","x":0.345,"y":0.373},{"m":"MARS","x":0.41,"y":0.303},{"m":"MARS","x":0.57,"y":0.339},{"m":"MARS","x":0.62,"y":0.34},{"m":"MARS","x":0.645,"y":0.288},{"m":"MARS","x":0.7,"y":0.336},{"m":"MARS","x":0.71,"y":0.324},{"m":"MARS","x":0.82,"y":0.363},{"m":"MARS","x":0.75,"y":0.273},{"m":"MARS","x":0.93,"y":0.276},{"m":"MARS","x":0.95,"y":0.284},{"m":"MARS","x":0.99,"y":0.239},{"m":"MARS","x":0.73,"y":0.21},{"m":"MARS","x":0.07,"y":0.209},{"m":"MARS","x":0.1,"y":0.164},{"m":"MARS","x":0.11,"y":0.119},{"m":"MARS","x":0.15,"y":0.079},{"m":"MARS","x":0.3,"y":0.206},{"m":"MARS","x":0.53,"y":0.187},{"m":"MARS","x":0.59,"y":0.164},{"m":"MARS","x":0.58,"y":0.172},{"m":"MARS","x":0.61,"y":0.112},{"m":"MARS","x":0.66,"y":0.142},{"m":"MARS","x":0.67,"y":0.067},{"m":"MARS","x":0.68,"y":0.022},{"m":"MARS","x":0.58,"y":0.007},{"m":"MARS","x":0.39,"y":0.134},{"m":"MARS","x":0.44,"y":0.072},{"m":"MARS","x":0.36,"y":0.037},{"m":"MARS","x":0.37,"y":0.03},{"m":"MARS","x":0.38,"y":0.037},{"m":"MARS","x":0.4,"y":0.037},{"m":"MARS","x":0.285,"y":0.03},{"m":"MARS","x":0.83,"y":0.104},{"m":"MARS","x":0.89,"y":0.112},{"m":"MARS","x":0.91,"y":0.134},{"m":"MARS","x":0.95,"y":0.172},{"m":"MARS","x":0.05,"y":0.104},
{"m":"CTA","x":0.054,"y":0.99},{"m":"CTA","x":0.09,"y":0.95},{"m":"CTA","x":0.39,"y":0.885},{"m":"CTA","x":0.39,"y":0.86},{"m":"CTA","x":0.64,"y":0.95},{"m":"CTA","x":0.725,"y":0.925},{"m":"CTA","x":0.725,"y":0.885},{"m":"CTA","x":0.81,"y":0.935},{"m":"CTA","x":0.856,"y":0.95},{"m":"CTA","x":0.89,"y":0.858},{"m":"CTA","x":1,"y":0.895},{"m":"CTA","x":0.17,"y":0.828},{"m":"CTA","x":0.16,"y":0.783},{"m":"CTA","x":0.013,"y":0.78},{"m":"CTA","x":0.455,"y":0.79},{"m":"CTA","x":0.51,"y":0.78},{"m":"CTA","x":0.81,"y":0.81},{"m":"CTA","x":0.27,"y":0.72},{"m":"CTA","x":0.28,"y":0.72},{"m":"CTA","x":0.4,"y":0.72},{"m":"CTA","x":0.395,"y":0.7},{"m":"CTA","x":0.51,"y":0.69},{"m":"CTA","x":0.635,"y":0.73},{"m":"CTA","x":0.98,"y":0.756},{"m":"CTA","x":0.018,"y":0.69},{"m":"CTA","x":0.08,"y":0.666},{"m":"CTA","x":0.12,"y":0.7},{"m":"CTA","x":0.185,"y":0.663},{"m":"CTA","x":0.83,"y":0.69},{"m":"CTA","x":0.91,"y":0.666},{"m":"CTA","x":0.91,"y":0.651},{"m":"CTA","x":0.05,"y":0.61},{"m":"CTA","x":0.11,"y":0.578},{"m":"CTA","x":0.22,"y":0.615},{"m":"CTA","x":0.21,"y":0.561},{"m":"CTA","x":0.33,"y":0.6},{"m":"CTA","x":0.45,"y":0.555},{"m":"CTA","x":0.51,"y":0.585},{"m":"CTA","x":0.625,"y":0.585},{"m":"CTA","x":0.73,"y":0.621},{"m":"CTA","x":0.73,"y":0.596},{"m":"CTA","x":0.73,"y":0.558},{"m":"CTA","x":0.97,"y":0.588},{"m":"CTA","x":0.034,"y":0.461},{"m":"CTA","x":0.144,"y":0.446},{"m":"CTA","x":0.39,"y":0.483},{"m":"CTA","x":0.565,"y":0.513},{"m":"CTA","x":0.594,"y":0.488},{"m":"CTA","x":0.607,"y":0.42},{"m":"CTA","x":0.73,"y":0.525},{"m":"CTA","x":0.73,"y":0.45},{"m":"CTA","x":0.81,"y":0.47},{"m":"CTA","x":0.89,"y":0.45},{"m":"CTA","x":0.91,"y":0.42},{"m":"CTA","x":0.856,"y":0.397},{"m":"CTA","x":0.856,"y":0.379},{"m":"CTA","x":1,"y":0.364},{"m":"CTA","x":0.157,"y":0.36},{"m":"CTA","x":0.26,"y":0.33},{"m":"CTA","x":0.275,"y":0.33},{"m":"CTA","x":0.565,"y":0.352},{"m":"CTA","x":0.57,"y":0.356},{"m":"CTA","x":0.615,"y":0.379},{"m":"CTA","x":0.725,"y":0.376},{"m":"CTA","x":0.12,"y":0.286},{"m":"CTA","x":0.24,"y":0.24},{"m":"CTA","x":0.39,"y":0.28},{"m":"CTA","x":0.39,"y":0.266},{"m":"CTA","x":0.51,"y":0.304},{"m":"CTA","x":0.73,"y":0.266},{"m":"CTA","x":0.73,"y":0.274},{"m":"CTA","x":0.82,"y":0.284},{"m":"CTA","x":0.97,"y":0.304},{"m":"CTA","x":1,"y":0.304},{"m":"CTA","x":0.94,"y":0.241},{"m":"CTA","x":0.3,"y":0.207},{"m":"CTA","x":0.33,"y":0.181},{"m":"CTA","x":0.39,"y":0.189},{"m":"CTA","x":0.39,"y":0.139},{"m":"CTA","x":0.51,"y":0.217},{"m":"CTA","x":0.51,"y":0.207},{"m":"CTA","x":0.59,"y":0.199},{"m":"CTA","x":0.46,"y":0.15},{"m":"CTA","x":0.15,"y":0.136},{"m":"CTA","x":0.067,"y":0.139},{"m":"CTA","x":0.1,"y":0.106},{"m":"CTA","x":0.22,"y":0.154},{"m":"CTA","x":0.51,"y":0.12},{"m":"CTA","x":0.73,"y":0.12},{"m":"CTA","x":0.73,"y":0.072},{"m":"CTA","x":0.97,"y":0.165},{"m":"CTA","x":0.046,"y":0.075},{"m":"CTA","x":0.234,"y":0.075},{"m":"CTA","x":0.27,"y":0.067},{"m":"CTA","x":0.193,"y":0.016},{"m":"CTA","x":0.2,"y":0.027},{"m":"CTA","x":0.39,"y":0.037},{"m":"CTA","x":0.39,"y":0.034},{"m":"CTA","x":0.56,"y":0.037},{"m":"CTA","x":0.65,"y":0.022},{"m":"CTA","x":0.86,"y":0.012},
{"m":"GBM","x":0.028,"y":0.993},{"m":"GBM","x":0.228,"y":0.95},{"m":"GBM","x":0.28,"y":0.95},{"m":"GBM","x":0.33,"y":0.948},{"m":"GBM","x":0.358,"y":0.885},{"m":"GBM","x":0.447,"y":0.888},{"m":"GBM","x":0.537,"y":0.855},{"m":"GBM","x":0.654,"y":0.855},{"m":"GBM","x":0.712,"y":0.865},{"m":"GBM","x":0.813,"y":0.89},{"m":"GBM","x":0.964,"y":0.925},{"m":"GBM","x":0.984,"y":0.933},{"m":"GBM","x":0.073,"y":0.835},{"m":"GBM","x":0.122,"y":0.8},{"m":"GBM","x":0.013,"y":0.793},{"m":"GBM","x":0.667,"y":0.771},{"m":"GBM","x":0.8,"y":0.75},{"m":"GBM","x":0.883,"y":0.805},{"m":"GBM","x":0.92,"y":0.783},{"m":"GBM","x":0.008,"y":0.73},{"m":"GBM","x":0.166,"y":0.711},{"m":"GBM","x":0.228,"y":0.735},{"m":"GBM","x":0.4,"y":0.73},{"m":"GBM","x":0.44,"y":0.693},{"m":"GBM","x":0.49,"y":0.708},{"m":"GBM","x":0.537,"y":0.678},{"m":"GBM","x":0.566,"y":0.663},{"m":"GBM","x":0.582,"y":0.675},{"m":"GBM","x":0.577,"y":0.656},{"m":"GBM","x":0.585,"y":0.69},{"m":"GBM","x":0.626,"y":0.633},{"m":"GBM","x":0.057,"y":0.663},{"m":"GBM","x":0.1,"y":0.64},{"m":"GBM","x":0.143,"y":0.66},{"m":"GBM","x":0.31,"y":0.606},{"m":"GBM","x":0.34,"y":0.55},{"m":"GBM","x":0.52,"y":0.58},{"m":"GBM","x":0.6,"y":0.546},{"m":"GBM","x":0.753,"y":0.563},{"m":"GBM","x":0.83,"y":0.57},{"m":"GBM","x":0.87,"y":0.566},{"m":"GBM","x":0.907,"y":0.558},{"m":"GBM","x":0.94,"y":0.59},{"m":"GBM","x":0.033,"y":0.498},{"m":"GBM","x":0.273,"y":0.506},{"m":"GBM","x":0.065,"y":0.441},{"m":"GBM","x":0.2,"y":0.409},{"m":"GBM","x":0.24,"y":0.428},{"m":"GBM","x":0.358,"y":0.46},{"m":"GBM","x":0.485,"y":0.45},{"m":"GBM","x":0.56,"y":0.4},{"m":"GBM","x":0.618,"y":0.409},{"m":"GBM","x":0.67,"y":0.503},{"m":"GBM","x":0.69,"y":0.386},{"m":"GBM","x":0.715,"y":0.371},{"m":"GBM","x":0.76,"y":0.346},{"m":"GBM","x":0.797,"y":0.322},{"m":"GBM","x":0.826,"y":0.289},{"m":"GBM","x":0.95,"y":0.409},{"m":"GBM","x":0.987,"y":0.487},{"m":"GBM","x":0.964,"y":0.45},{"m":"GBM","x":1,"y":0.44},{"m":"GBM","x":0.975,"y":0.356},{"m":"GBM","x":0.29,"y":0.367},{"m":"GBM","x":0.38,"y":0.382},{"m":"GBM","x":0.085,"y":0.356},{"m":"GBM","x":0.21,"y":0.292},{"m":"GBM","x":0.34,"y":0.296},{"m":"GBM","x":0.41,"y":0.299},{"m":"GBM","x":0.42,"y":0.236},{"m":"GBM","x":0.5,"y":0.229},{"m":"GBM","x":0.556,"y":0.248},{"m":"GBM","x":0.642,"y":0.293},{"m":"GBM","x":0.314,"y":0.211},{"m":"GBM","x":0.566,"y":0.177},{"m":"GBM","x":0.625,"y":0.166},{"m":"GBM","x":0.73,"y":0.169},{"m":"GBM","x":0.75,"y":0.15},{"m":"GBM","x":0.845,"y":0.271},{"m":"GBM","x":0.886,"y":0.222},{"m":"GBM","x":0.91,"y":0.262},{"m":"GBM","x":0.046,"y":0.165},{"m":"GBM","x":0.138,"y":0.187},{"m":"GBM","x":0.228,"y":0.162},{"m":"GBM","x":0.11,"y":0.121},{"m":"GBM","x":0.094,"y":0.082},{"m":"GBM","x":0.172,"y":0.076},{"m":"GBM","x":0.3,"y":0.076},{"m":"GBM","x":0.51,"y":0.121},{"m":"GBM","x":0.642,"y":0.117},{"m":"GBM","x":0.79,"y":0.067},{"m":"GBM","x":0.85,"y":0.106},{"m":"GBM","x":0.195,"y":0.016},{"m":"GBM","x":0.252,"y":0.027},{"m":"GBM","x":0.385,"y":0.012},{"m":"GBM","x":0.436,"y":0.037},{"m":"GBM","x":0.47,"y":0.037},{"m":"GBM","x":0.704,"y":0.022},
{"m":"MAX","x":0.054,"y":0.993},{"m":"MAX","x":0.22,"y":0.96},{"m":"MAX","x":0.31,"y":0.952},{"m":"MAX","x":0.318,"y":0.955},{"m":"MAX","x":0.246,"y":0.904},{"m":"MAX","x":0.494,"y":0.877},{"m":"MAX","x":0.52,"y":0.885},{"m":"MAX","x":0.74,"y":0.907},{"m":"MAX","x":0.73,"y":0.84},{"m":"MAX","x":0.807,"y":0.835},{"m":"MAX","x":0.91,"y":0.88},{"m":"MAX","x":0.997,"y":0.918},{"m":"MAX","x":0.095,"y":0.888},{"m":"MAX","x":0.1,"y":0.877},{"m":"MAX","x":0.03,"y":0.825},{"m":"MAX","x":0.02,"y":0.82},{"m":"MAX","x":0.163,"y":0.843},{"m":"MAX","x":0.095,"y":0.784},{"m":"MAX","x":0.274,"y":0.765},{"m":"MAX","x":0.315,"y":0.735},{"m":"MAX","x":0.233,"y":0.727},{"m":"MAX","x":0.139,"y":0.727},{"m":"MAX","x":0.184,"y":0.693},{"m":"MAX","x":0.364,"y":0.68},{"m":"MAX","x":0.38,"y":0.66},{"m":"MAX","x":0.393,"y":0.682},{"m":"MAX","x":0.462,"y":0.705},{"m":"MAX","x":0.51,"y":0.694},{"m":"MAX","x":0.55,"y":0.775},{"m":"MAX","x":0.005,"y":0.688},{"m":"MAX","x":0.865,"y":0.777},{"m":"MAX","x":0.905,"y":0.727},{"m":"MAX","x":0.955,"y":0.74},{"m":"MAX","x":0.853,"y":0.694},{"m":"MAX","x":0.69,"y":0.603},{"m":"MAX","x":0.19,"y":0.577},{"m":"MAX","x":0.196,"y":0.574},{"m":"MAX","x":0.07,"y":0.547},{"m":"MAX","x":0.171,"y":0.5},{"m":"MAX","x":0.285,"y":0.52},{"m":"MAX","x":0.35,"y":0.48},{"m":"MAX","x":0.54,"y":0.565},{"m":"MAX","x":0.573,"y":0.562},{"m":"MAX","x":0.547,"y":0.528},{"m":"MAX","x":0.6,"y":0.514},{"m":"MAX","x":0.62,"y":0.477},{"m":"MAX","x":0.79,"y":0.5},{"m":"MAX","x":0.817,"y":0.513},{"m":"MAX","x":0.834,"y":0.514},{"m":"MAX","x":0.943,"y":0.528},{"m":"MAX","x":0.989,"y":0.502},{"m":"MAX","x":0.98,"y":0.492},{"m":"MAX","x":0.111,"y":0.412},{"m":"MAX","x":0.96,"y":0.43},{"m":"MAX","x":0.886,"y":0.393},{"m":"MAX","x":0.445,"y":0.394},{"m":"MAX","x":0.478,"y":0.37},{"m":"MAX","x":0.2,"y":0.35},{"m":"MAX","x":0.258,"y":0.364},{"m":"MAX","x":0.334,"y":0.34},{"m":"MAX","x":0.424,"y":0.34},{"m":"MAX","x":0.563,"y":0.35},{"m":"MAX","x":0.69,"y":0.325},{"m":"MAX","x":0.8,"y":0.348},{"m":"MAX","x":0.838,"y":0.318},{"m":"MAX","x":1,"y":0.322},{"m":"MAX","x":0.812,"y":0.292},{"m":"MAX","x":0.796,"y":0.273},{"m":"MAX","x":0.824,"y":0.247},{"m":"MAX","x":0.755,"y":0.235},{"m":"MAX","x":0.396,"y":0.277},{"m":"MAX","x":0.437,"y":0.25},{"m":"MAX","x":0.347,"y":0.172},{"m":"MAX","x":0.413,"y":0.15},{"m":"MAX","x":0.576,"y":0.16},{"m":"MAX","x":0.608,"y":0.198},{"m":"MAX","x":0.633,"y":0.187},{"m":"MAX","x":0.657,"y":0.187},{"m":"MAX","x":0.723,"y":0.142},{"m":"MAX","x":0.775,"y":0.15},{"m":"MAX","x":0.878,"y":0.195},{"m":"MAX","x":0.902,"y":0.195},{"m":"MAX","x":0.918,"y":0.235},{"m":"MAX","x":0.95,"y":0.228},{"m":"MAX","x":0.04,"y":0.175},{"m":"MAX","x":0.05,"y":0.195},{"m":"MAX","x":0.13,"y":0.232},{"m":"MAX","x":0.274,"y":0.229},{"m":"MAX","x":0.026,"y":0.123},{"m":"MAX","x":0.116,"y":0.1},{"m":"MAX","x":0.144,"y":0.045},{"m":"MAX","x":0.152,"y":0.025},{"m":"MAX","x":0.236,"y":0.045},{"m":"MAX","x":0.279,"y":0.075},{"m":"MAX","x":0.326,"y":0.034},{"m":"MAX","x":0.462,"y":0.019},{"m":"MAX","x":0.478,"y":0.12},{"m":"MAX","x":0.497,"y":0.12},{"m":"MAX","x":0.589,"y":0.063},{"m":"MAX","x":0.638,"y":0.027},{"m":"MAX","x":0.67,"y":0.097},{"m":"MAX","x":0.674,"y":0.082},{"m":"MAX","x":0.71,"y":0.007},{"m":"MAX","x":0.899,"y":0.097},
{"m":"RF","x":0.084,"y":0.97},{"m":"RF","x":0.198,"y":0.991},{"m":"RF","x":0.149,"y":0.916},{"m":"RF","x":0.29,"y":0.887},{"m":"RF","x":0.417,"y":0.887},{"m":"RF","x":0.52,"y":0.946},{"m":"RF","x":0.61,"y":0.946},{"m":"RF","x":0.58,"y":0.872},{"m":"RF","x":0.635,"y":0.887},{"m":"RF","x":0.465,"y":0.854},{"m":"RF","x":0.92,"y":0.916},{"m":"RF","x":0.94,"y":0.906},{"m":"RF","x":0.023,"y":0.869},{"m":"RF","x":0.036,"y":0.872},{"m":"RF","x":0.016,"y":0.827},{"m":"RF","x":0.06,"y":0.791},{"m":"RF","x":0.068,"y":0.791},{"m":"RF","x":0.133,"y":0.8},{"m":"RF","x":0.276,"y":0.824},{"m":"RF","x":0.53,"y":0.787},{"m":"RF","x":0.238,"y":0.761},{"m":"RF","x":0.41,"y":0.764},{"m":"RF","x":0.8,"y":0.757},{"m":"RF","x":0.908,"y":0.772},{"m":"RF","x":0.308,"y":0.734},{"m":"RF","x":0.295,"y":0.727},{"m":"RF","x":0.397,"y":0.727},{"m":"RF","x":0.48,"y":0.72},{"m":"RF","x":0.076,"y":0.693},{"m":"RF","x":0.66,"y":0.737},{"m":"RF","x":0.66,"y":0.672},{"m":"RF","x":0.7,"y":0.648},{"m":"RF","x":0.327,"y":0.66},{"m":"RF","x":0.392,"y":0.645},{"m":"RF","x":0.473,"y":0.66},{"m":"RF","x":0.498,"y":0.645},{"m":"RF","x":0.514,"y":0.642},{"m":"RF","x":0.956,"y":0.682},{"m":"RF","x":0.23,"y":0.627},{"m":"RF","x":0.254,"y":0.627},{"m":"RF","x":0.06,"y":0.618},{"m":"RF","x":0.347,"y":0.607},{"m":"RF","x":0.227,"y":0.537},{"m":"RF","x":0.251,"y":0.54},{"m":"RF","x":0.003,"y":0.518},{"m":"RF","x":0.113,"y":0.499},{"m":"RF","x":0.554,"y":0.525},{"m":"RF","x":0.627,"y":0.515},{"m":"RF","x":0.724,"y":0.51},{"m":"RF","x":0.862,"y":0.507},{"m":"RF","x":0.946,"y":0.513},{"m":"RF","x":1,"y":0.488},{"m":"RF","x":0.222,"y":0.44},{"m":"RF","x":0.287,"y":0.384},{"m":"RF","x":0.303,"y":0.384},{"m":"RF","x":0.36,"y":0.421},{"m":"RF","x":0.373,"y":0.403},{"m":"RF","x":0.49,"y":0.399},{"m":"RF","x":0.562,"y":0.409},{"m":"RF","x":0.652,"y":0.433},{"m":"RF","x":0.716,"y":0.451},{"m":"RF","x":0.935,"y":0.461},{"m":"RF","x":0.96,"y":0.421},{"m":"RF","x":0.972,"y":0.403},{"m":"RF","x":0.165,"y":0.354},{"m":"RF","x":0.554,"y":0.354},{"m":"RF","x":0.344,"y":0.331},{"m":"RF","x":0.389,"y":0.219},{"m":"RF","x":0.41,"y":0.257},{"m":"RF","x":0.438,"y":0.194},{"m":"RF","x":0.454,"y":0.204},{"m":"RF","x":0.574,"y":0.212},{"m":"RF","x":0.622,"y":0.179},{"m":"RF","x":0.689,"y":0.215},{"m":"RF","x":0.697,"y":0.215},{"m":"RF","x":0.708,"y":0.257},{"m":"RF","x":0.73,"y":0.257},{"m":"RF","x":0.752,"y":0.25},{"m":"RF","x":0.778,"y":0.272},{"m":"RF","x":0.8,"y":0.299},{"m":"RF","x":0.805,"y":0.287},{"m":"RF","x":0.833,"y":0.234},{"m":"RF","x":0.78,"y":0.212},{"m":"RF","x":0.887,"y":0.254},{"m":"RF","x":0.895,"y":0.194},{"m":"RF","x":0.924,"y":0.284},{"m":"RF","x":0.93,"y":0.284},{"m":"RF","x":0.972,"y":0.313},{"m":"RF","x":0.079,"y":0.245},{"m":"RF","x":0.133,"y":0.167},{"m":"RF","x":0.19,"y":0.212},{"m":"RF","x":0.206,"y":0.204},{"m":"RF","x":0.105,"y":0.1},{"m":"RF","x":0.149,"y":0.048},{"m":"RF","x":0.165,"y":0.051},{"m":"RF","x":0.214,"y":0.078},{"m":"RF","x":0.263,"y":0.033},{"m":"RF","x":0.373,"y":0.078},{"m":"RF","x":0.444,"y":0.085},{"m":"RF","x":0.554,"y":0.14},{"m":"RF","x":0.567,"y":0.11},{"m":"RF","x":0.762,"y":0.137},{"m":"RF","x":0.805,"y":0.13},{"m":"RF","x":0.846,"y":0.048},{"m":"RF","x":0.862,"y":0.06},{"m":"RF","x":0.911,"y":0.085},{"m":"RF","x":0.595,"y":0.006},{"m":"RF","x":0.676,"y":0.03},{"m":"RF","x":0.784,"y":0.021}
]},
"spacing":38,
"vconcat":[
{"spacing":20,"hconcat":[
{"title":{"text":"Ensemble","fontSize":30,"fontWeight":"bold","color":"#000","anchor":"middle","baseline":"middle","offset":-24,"dx":13},"spacing":86,"bounds":"flush","hconcat":[
{"width":221,"height":241,"title":{"text":"QQ plot residuals","fontSize":11.5,"fontWeight":"bold","color":"#222","frame":"group","baseline":"middle","offset":12},"encoding":{"x":{"field":"x","type":"quantitative","scale":{"domain":[-0.04,1.04],"nice":false,"zero":false},"axis":{"values":[0,0.2,0.4,0.6,0.8,1],"format":".1f","title":"Expected"}},"y":{"field":"y","type":"quantitative","scale":{"domain":[-0.04,1.04],"nice":false,"zero":false},"axis":{"values":[0,0.2,0.4,0.6,0.8,1],"format":".1f","title":"Observed"}}},"layer":[
{"data":{"name":"diag"},"mark":{"type":"line","color":"#e49a9a","strokeWidth":1.2},"encoding":{}},
{"data":{"name":"qq"},"transform":[{"filter":"datum.m=='E'"}],"mark":{"type":"line","color":"#333","strokeWidth":3.2},"encoding":{}},
{"data":{"name":"t"},"transform":[{"filter":"datum.m=='E'"}],"mark":{"type":"text","align":"left","baseline":"middle","fontSize":10.5,"color":"#444"},"encoding":{"text":{"field":"t"}}}]},
{"width":221,"height":241,"title":{"text":["Residual vs. predicted","Quantile deviations detected (red curves)","Combined adjusted quantile test significant"],"fontSize":9,"fontWeight":"bold","color":"#e8292b","frame":"group","baseline":"middle","offset":7,"lineHeight":11},"encoding":{"x":{"field":"x","type":"quantitative","scale":{"domain":[-0.04,1.04],"nice":false,"zero":false},"axis":{"values":[0,0.2,0.4,0.6,0.8,1],"format":".1f","title":"Model predictions (rank transformed)"}},"y":{"field":"y","type":"quantitative","scale":{"domain":[-0.04,1.04],"nice":false,"zero":false},"axis":{"values":[0,0.25,0.5,0.75,1],"format":".2f","title":"DHARMa residual"}}},"layer":[
{"data":{"name":"hl"},"mark":{"type":"line","color":"#f0a0a0","strokeDash":[2,3],"strokeWidth":1},"encoding":{"detail":{"field":"k","type":"nominal"}}},
{"data":{"name":"q"},"transform":[{"filter":"datum.m=='E'"}],"mark":{"type":"area","color":"#bdbdbd","opacity":0.55,"interpolate":"monotone","clip":true},"encoding":{"y":{"field":"l","type":"quantitative","stack":null,"scale":{"domain":[-0.04,1.04],"nice":false,"zero":false},"axis":{"values":[0,0.25,0.5,0.75,1],"format":".2f","title":"DHARMa residual"}},"y2":{"field":"h"},"detail":{"field":"k","type":"nominal"}}},
{"data":{"name":"p"},"transform":[{"filter":"datum.m=='E'"}],"mark":{"type":"circle","size":40,"fill":"#9a9a9a","fillOpacity":0.35,"stroke":"#555","strokeWidth":0.8,"strokeOpacity":0.8,"opacity":1},"encoding":{}},
{"data":{"name":"q"},"transform":[{"filter":"datum.m=='E'"}],"mark":{"type":"line","color":"#dd3c3c","strokeWidth":2.2,"interpolate":"monotone","clip":true},"encoding":{"detail":{"field":"k","type":"nominal"}}}]}
]},
{"title":{"text":"GLM","fontSize":30,"fontWeight":"bold","color":"#000","anchor":"middle","baseline":"middle","offset":-19,"dx":13},"spacing":86,"bounds":"flush","hconcat":[
{"width":221,"height":241,"title":{"text":"QQ plot residuals","fontSize":11.5,"fontWeight":"bold","color":"#222","frame":"group","baseline":"middle","offset":12},"encoding":{"x":{"field":"x","type":"quantitative","scale":{"domain":[-0.04,1.04],"nice":false,"zero":false},"axis":{"values":[0,0.2,0.4,0.6,0.8,1],"format":".1f","title":"Expected"}},"y":{"field":"y","type":"quantitative","scale":{"domain":[-0.04,1.04],"nice":false,"zero":false},"axis":{"values":[0,0.2,0.4,0.6,0.8,1],"format":".1f","title":"Observed"}}},"layer":[
{"data":{"name":"diag"},"mark":{"type":"line","color":"#e49a9a","strokeWidth":1.2},"encoding":{}},
{"data":{"name":"qq"},"transform":[{"filter":"datum.m=='GLM'"}],"mark":{"type":"line","color":"#333","strokeWidth":3.2},"encoding":{}},
{"data":{"name":"t"},"transform":[{"filter":"datum.m=='GLM'"}],"mark":{"type":"text","align":"left","baseline":"middle","fontSize":10.5,"color":"#444"},"encoding":{"text":{"field":"t"}}}]},
{"width":221,"height":241,"title":{"text":["Residual vs. predicted","No significant problems detected"],"fontSize":9,"fontWeight":"bold","color":"#222","frame":"group","baseline":"middle","offset":13,"lineHeight":11},"encoding":{"x":{"field":"x","type":"quantitative","scale":{"domain":[-0.04,1.04],"nice":false,"zero":false},"axis":{"values":[0,0.2,0.4,0.6,0.8,1],"format":".1f","title":"Model predictions (rank transformed)"}},"y":{"field":"y","type":"quantitative","scale":{"domain":[-0.04,1.04],"nice":false,"zero":false},"axis":{"values":[0,0.25,0.5,0.75,1],"format":".2f","title":"DHARMa residual"}}},"layer":[
{"data":{"name":"hl"},"mark":{"type":"line","color":"#c8c8c8","strokeDash":[2,3],"strokeWidth":1},"encoding":{"detail":{"field":"k","type":"nominal"}}},
{"data":{"name":"q"},"transform":[{"filter":"datum.m=='GLM'"}],"mark":{"type":"area","color":"#bdbdbd","opacity":0.55,"interpolate":"monotone","clip":true},"encoding":{"y":{"field":"l","type":"quantitative","stack":null,"scale":{"domain":[-0.04,1.04],"nice":false,"zero":false},"axis":{"values":[0,0.25,0.5,0.75,1],"format":".2f","title":"DHARMa residual"}},"y2":{"field":"h"},"detail":{"field":"k","type":"nominal"}}},
{"data":{"name":"p"},"transform":[{"filter":"datum.m=='GLM'"}],"mark":{"type":"circle","size":40,"fill":"#9a9a9a","fillOpacity":0.35,"stroke":"#555","strokeWidth":0.8,"strokeOpacity":0.8,"opacity":1},"encoding":{}},
{"data":{"name":"q"},"transform":[{"filter":"datum.m=='GLM'"}],"mark":{"type":"line","color":"#333","strokeWidth":2.2,"interpolate":"monotone","clip":true},"encoding":{"detail":{"field":"k","type":"nominal"}}}]}
]}
]},
{"spacing":20,"hconcat":[
{"title":{"text":"GAM","fontSize":30,"fontWeight":"bold","color":"#000","anchor":"middle","baseline":"middle","offset":-20,"dx":13},"spacing":86,"bounds":"flush","hconcat":[
{"width":221,"height":241,"title":{"text":"QQ plot residuals","fontSize":11.5,"fontWeight":"bold","color":"#222","frame":"group","baseline":"middle","offset":12},"encoding":{"x":{"field":"x","type":"quantitative","scale":{"domain":[-0.04,1.04],"nice":false,"zero":false},"axis":{"values":[0,0.2,0.4,0.6,0.8,1],"format":".1f","title":"Expected"}},"y":{"field":"y","type":"quantitative","scale":{"domain":[-0.04,1.04],"nice":false,"zero":false},"axis":{"values":[0,0.2,0.4,0.6,0.8,1],"format":".1f","title":"Observed"}}},"layer":[
{"data":{"name":"diag"},"mark":{"type":"line","color":"#e49a9a","strokeWidth":1.2},"encoding":{}},
{"data":{"name":"qq"},"transform":[{"filter":"datum.m=='GAM'"}],"mark":{"type":"line","color":"#333","strokeWidth":3.2},"encoding":{}},
{"data":{"name":"t"},"transform":[{"filter":"datum.m=='GAM'"}],"mark":{"type":"text","align":"left","baseline":"middle","fontSize":10.5,"color":"#444"},"encoding":{"text":{"field":"t"}}}]},
{"width":221,"height":241,"title":{"text":["Residual vs. predicted","No significant problems detected"],"fontSize":9,"fontWeight":"bold","color":"#222","frame":"group","baseline":"middle","offset":13,"lineHeight":11},"encoding":{"x":{"field":"x","type":"quantitative","scale":{"domain":[-0.04,1.04],"nice":false,"zero":false},"axis":{"values":[0,0.2,0.4,0.6,0.8,1],"format":".1f","title":"Model predictions (rank transformed)"}},"y":{"field":"y","type":"quantitative","scale":{"domain":[-0.04,1.04],"nice":false,"zero":false},"axis":{"values":[0,0.25,0.5,0.75,1],"format":".2f","title":"DHARMa residual"}}},"layer":[
{"data":{"name":"hl"},"mark":{"type":"line","color":"#c8c8c8","strokeDash":[2,3],"strokeWidth":1},"encoding":{"detail":{"field":"k","type":"nominal"}}},
{"data":{"name":"q"},"transform":[{"filter":"datum.m=='GAM'"}],"mark":{"type":"area","color":"#bdbdbd","opacity":0.55,"interpolate":"monotone","clip":true},"encoding":{"y":{"field":"l","type":"quantitative","stack":null,"scale":{"domain":[-0.04,1.04],"nice":false,"zero":false},"axis":{"values":[0,0.25,0.5,0.75,1],"format":".2f","title":"DHARMa residual"}},"y2":{"field":"h"},"detail":{"field":"k","type":"nominal"}}},
{"data":{"name":"p"},"transform":[{"filter":"datum.m=='GAM'"}],"mark":{"type":"circle","size":40,"fill":"#9a9a9a","fillOpacity":0.35,"stroke":"#555","strokeWidth":0.8,"strokeOpacity":0.8,"opacity":1},"encoding":{}},
{"data":{"name":"q"},"transform":[{"filter":"datum.m=='GAM'"}],"mark":{"type":"line","color":"#333","strokeWidth":2.2,"interpolate":"monotone","clip":true},"encoding":{"detail":{"field":"k","type":"nominal"}}}]}
]},
{"title":{"text":"MARS","fontSize":30,"fontWeight":"bold","color":"#000","anchor":"middle","baseline":"middle","offset":-20,"dx":13},"spacing":86,"bounds":"flush","hconcat":[
{"width":221,"height":241,"title":{"text":"QQ plot residuals","fontSize":11.5,"fontWeight":"bold","color":"#222","frame":"group","baseline":"middle","offset":12},"encoding":{"x":{"field":"x","type":"quantitative","scale":{"domain":[-0.04,1.04],"nice":false,"zero":false},"axis":{"values":[0,0.2,0.4,0.6,0.8,1],"format":".1f","title":"Expected"}},"y":{"field":"y","type":"quantitative","scale":{"domain":[-0.04,1.04],"nice":false,"zero":false},"axis":{"values":[0,0.2,0.4,0.6,0.8,1],"format":".1f","title":"Observed"}}},"layer":[
{"data":{"name":"diag"},"mark":{"type":"line","color":"#e49a9a","strokeWidth":1.2},"encoding":{}},
{"data":{"name":"qq"},"transform":[{"filter":"datum.m=='MARS'"}],"mark":{"type":"line","color":"#333","strokeWidth":3.2},"encoding":{}},
{"data":{"name":"t"},"transform":[{"filter":"datum.m=='MARS'"}],"mark":{"type":"text","align":"left","baseline":"middle","fontSize":10.5,"color":"#444"},"encoding":{"text":{"field":"t"}}}]},
{"width":221,"height":241,"title":{"text":["Residual vs. predicted","No significant problems detected"],"fontSize":9,"fontWeight":"bold","color":"#222","frame":"group","baseline":"middle","offset":13,"lineHeight":11},"encoding":{"x":{"field":"x","type":"quantitative","scale":{"domain":[-0.04,1.04],"nice":false,"zero":false},"axis":{"values":[0,0.2,0.4,0.6,0.8,1],"format":".1f","title":"Model predictions (rank transformed)"}},"y":{"field":"y","type":"quantitative","scale":{"domain":[-0.04,1.04],"nice":false,"zero":false},"axis":{"values":[0,0.25,0.5,0.75,1],"format":".2f","title":"DHARMa residual"}}},"layer":[
{"data":{"name":"hl"},"mark":{"type":"line","color":"#c8c8c8","strokeDash":[2,3],"strokeWidth":1},"encoding":{"detail":{"field":"k","type":"nominal"}}},
{"data":{"name":"q"},"transform":[{"filter":"datum.m=='MARS'"}],"mark":{"type":"area","color":"#bdbdbd","opacity":0.55,"interpolate":"monotone","clip":true},"encoding":{"y":{"field":"l","type":"quantitative","stack":null,"scale":{"domain":[-0.04,1.04],"nice":false,"zero":false},"axis":{"values":[0,0.25,0.5,0.75,1],"format":".2f","title":"DHARMa residual"}},"y2":{"field":"h"},"detail":{"field":"k","type":"nominal"}}},
{"data":{"name":"p"},"transform":[{"filter":"datum.m=='MARS'"}],"mark":{"type":"circle","size":40,"fill":"#9a9a9a","fillOpacity":0.35,"stroke":"#555","strokeWidth":0.8,"strokeOpacity":0.8,"opacity":1},"encoding":{}},
{"data":{"name":"q"},"transform":[{"filter":"datum.m=='MARS'"}],"mark":{"type":"line","color":"#333","strokeWidth":2.2,"interpolate":"monotone","clip":true},"encoding":{"detail":{"field":"k","type":"nominal"}}}]}
]}
]},
{"spacing":20,"hconcat":[
{"title":{"text":"CTA","fontSize":30,"fontWeight":"bold","color":"#000","anchor":"middle","baseline":"middle","offset":-20,"dx":13},"spacing":86,"bounds":"flush","hconcat":[
{"width":221,"height":241,"title":{"text":"QQ plot residuals","fontSize":11.5,"fontWeight":"bold","color":"#222","frame":"group","baseline":"middle","offset":12},"encoding":{"x":{"field":"x","type":"quantitative","scale":{"domain":[-0.04,1.04],"nice":false,"zero":false},"axis":{"values":[0,0.2,0.4,0.6,0.8,1],"format":".1f","title":"Expected"}},"y":{"field":"y","type":"quantitative","scale":{"domain":[-0.04,1.04],"nice":false,"zero":false},"axis":{"values":[0,0.2,0.4,0.6,0.8,1],"format":".1f","title":"Observed"}}},"layer":[
{"data":{"name":"diag"},"mark":{"type":"line","color":"#e49a9a","strokeWidth":1.2},"encoding":{}},
{"data":{"name":"qq"},"transform":[{"filter":"datum.m=='CTA'"}],"mark":{"type":"line","color":"#333","strokeWidth":3.2},"encoding":{}},
{"data":{"name":"t"},"transform":[{"filter":"datum.m=='CTA'"}],"mark":{"type":"text","align":"left","baseline":"middle","fontSize":10.5,"color":"#444"},"encoding":{"text":{"field":"t"}}}]},
{"width":221,"height":241,"title":{"text":["Residual vs. predicted","No significant problems detected"],"fontSize":9,"fontWeight":"bold","color":"#222","frame":"group","baseline":"middle","offset":13,"lineHeight":11},"encoding":{"x":{"field":"x","type":"quantitative","scale":{"domain":[-0.04,1.04],"nice":false,"zero":false},"axis":{"values":[0,0.2,0.4,0.6,0.8,1],"format":".1f","title":"Model predictions (rank transformed)"}},"y":{"field":"y","type":"quantitative","scale":{"domain":[-0.04,1.04],"nice":false,"zero":false},"axis":{"values":[0,0.25,0.5,0.75,1],"format":".2f","title":"DHARMa residual"}}},"layer":[
{"data":{"name":"hl"},"mark":{"type":"line","color":"#c8c8c8","strokeDash":[2,3],"strokeWidth":1},"encoding":{"detail":{"field":"k","type":"nominal"}}},
{"data":{"name":"q"},"transform":[{"filter":"datum.m=='CTA'"}],"mark":{"type":"area","color":"#bdbdbd","opacity":0.55,"interpolate":"monotone","clip":true},"encoding":{"y":{"field":"l","type":"quantitative","stack":null,"scale":{"domain":[-0.04,1.04],"nice":false,"zero":false},"axis":{"values":[0,0.25,0.5,0.75,1],"format":".2f","title":"DHARMa residual"}},"y2":{"field":"h"},"detail":{"field":"k","type":"nominal"}}},
{"data":{"name":"p"},"transform":[{"filter":"datum.m=='CTA'"}],"mark":{"type":"circle","size":40,"fill":"#9a9a9a","fillOpacity":0.35,"stroke":"#555","strokeWidth":0.8,"strokeOpacity":0.8,"opacity":1},"encoding":{}},
{"data":{"name":"q"},"transform":[{"filter":"datum.m=='CTA'"}],"mark":{"type":"line","color":"#333","strokeWidth":2.2,"interpolate":"monotone","clip":true},"encoding":{"detail":{"field":"k","type":"nominal"}}}]}
]},
{"title":{"text":"GBM","fontSize":30,"fontWeight":"bold","color":"#000","anchor":"middle","baseline":"middle","offset":-20,"dx":13},"spacing":86,"bounds":"flush","hconcat":[
{"width":221,"height":241,"title":{"text":"QQ plot residuals","fontSize":11.5,"fontWeight":"bold","color":"#222","frame":"group","baseline":"middle","offset":12},"encoding":{"x":{"field":"x","type":"quantitative","scale":{"domain":[-0.04,1.04],"nice":false,"zero":false},"axis":{"values":[0,0.2,0.4,0.6,0.8,1],"format":".1f","title":"Expected"}},"y":{"field":"y","type":"quantitative","scale":{"domain":[-0.04,1.04],"nice":false,"zero":false},"axis":{"values":[0,0.2,0.4,0.6,0.8,1],"format":".1f","title":"Observed"}}},"layer":[
{"data":{"name":"diag"},"mark":{"type":"line","color":"#e49a9a","strokeWidth":1.2},"encoding":{}},
{"data":{"name":"qq"},"transform":[{"filter":"datum.m=='GBM'"}],"mark":{"type":"line","color":"#333","strokeWidth":3.2},"encoding":{}},
{"data":{"name":"t"},"transform":[{"filter":"datum.m=='GBM'"}],"mark":{"type":"text","align":"left","baseline":"middle","fontSize":10.5,"color":"#444"},"encoding":{"text":{"field":"t"}}}]},
{"width":221,"height":241,"title":{"text":["Residual vs. predicted","No significant problems detected"],"fontSize":9,"fontWeight":"bold","color":"#222","frame":"group","baseline":"middle","offset":13,"lineHeight":11},"encoding":{"x":{"field":"x","type":"quantitative","scale":{"domain":[-0.04,1.04],"nice":false,"zero":false},"axis":{"values":[0,0.2,0.4,0.6,0.8,1],"format":".1f","title":"Model predictions (rank transformed)"}},"y":{"field":"y","type":"quantitative","scale":{"domain":[-0.04,1.04],"nice":false,"zero":false},"axis":{"values":[0,0.25,0.5,0.75,1],"format":".2f","title":"DHARMa residual"}}},"layer":[
{"data":{"name":"hl"},"mark":{"type":"line","color":"#c8c8c8","strokeDash":[2,3],"strokeWidth":1},"encoding":{"detail":{"field":"k","type":"nominal"}}},
{"data":{"name":"q"},"transform":[{"filter":"datum.m=='GBM'"}],"mark":{"type":"area","color":"#bdbdbd","opacity":0.55,"interpolate":"monotone","clip":true},"encoding":{"y":{"field":"l","type":"quantitative","stack":null,"scale":{"domain":[-0.04,1.04],"nice":false,"zero":false},"axis":{"values":[0,0.25,0.5,0.75,1],"format":".2f","title":"DHARMa residual"}},"y2":{"field":"h"},"detail":{"field":"k","type":"nominal"}}},
{"data":{"name":"p"},"transform":[{"filter":"datum.m=='GBM'"}],"mark":{"type":"circle","size":40,"fill":"#9a9a9a","fillOpacity":0.35,"stroke":"#555","strokeWidth":0.8,"strokeOpacity":0.8,"opacity":1},"encoding":{}},
{"data":{"name":"q"},"transform":[{"filter":"datum.m=='GBM'"}],"mark":{"type":"line","color":"#333","strokeWidth":2.2,"interpolate":"monotone","clip":true},"encoding":{"detail":{"field":"k","type":"nominal"}}}]}
]}
]},
{"spacing":20,"hconcat":[
{"title":{"text":"MAXENT","fontSize":30,"fontWeight":"bold","color":"#000","anchor":"middle","baseline":"middle","offset":-20,"dx":13},"spacing":86,"bounds":"flush","hconcat":[
{"width":221,"height":241,"title":{"text":"QQ plot residuals","fontSize":11.5,"fontWeight":"bold","color":"#222","frame":"group","baseline":"middle","offset":12},"encoding":{"x":{"field":"x","type":"quantitative","scale":{"domain":[-0.04,1.04],"nice":false,"zero":false},"axis":{"values":[0,0.2,0.4,0.6,0.8,1],"format":".1f","title":"Expected"}},"y":{"field":"y","type":"quantitative","scale":{"domain":[-0.04,1.04],"nice":false,"zero":false},"axis":{"values":[0,0.2,0.4,0.6,0.8,1],"format":".1f","title":"Observed"}}},"layer":[
{"data":{"name":"diag"},"mark":{"type":"line","color":"#e49a9a","strokeWidth":1.2},"encoding":{}},
{"data":{"name":"qq"},"transform":[{"filter":"datum.m=='MAX'"}],"mark":{"type":"line","color":"#333","strokeWidth":3.2},"encoding":{}},
{"data":{"name":"t"},"transform":[{"filter":"datum.m=='MAX'"}],"mark":{"type":"text","align":"left","baseline":"middle","fontSize":10.5,"color":"#444"},"encoding":{"text":{"field":"t"}}}]},
{"width":221,"height":241,"title":{"text":["Residual vs. predicted","No significant problems detected"],"fontSize":9,"fontWeight":"bold","color":"#222","frame":"group","baseline":"middle","offset":13,"lineHeight":11},"encoding":{"x":{"field":"x","type":"quantitative","scale":{"domain":[-0.04,1.04],"nice":false,"zero":false},"axis":{"values":[0,0.2,0.4,0.6,0.8,1],"format":".1f","title":"Model predictions (rank transformed)"}},"y":{"field":"y","type":"quantitative","scale":{"domain":[-0.04,1.04],"nice":false,"zero":false},"axis":{"values":[0,0.25,0.5,0.75,1],"format":".2f","title":"DHARMa residual"}}},"layer":[
{"data":{"name":"hl"},"mark":{"type":"line","color":"#c8c8c8","strokeDash":[2,3],"strokeWidth":1},"encoding":{"detail":{"field":"k","type":"nominal"}}},
{"data":{"name":"q"},"transform":[{"filter":"datum.m=='MAX'"}],"mark":{"type":"area","color":"#bdbdbd","opacity":0.55,"interpolate":"monotone","clip":true},"encoding":{"y":{"field":"l","type":"quantitative","stack":null,"scale":{"domain":[-0.04,1.04],"nice":false,"zero":false},"axis":{"values":[0,0.25,0.5,0.75,1],"format":".2f","title":"DHARMa residual"}},"y2":{"field":"h"},"detail":{"field":"k","type":"nominal"}}},
{"data":{"name":"p"},"transform":[{"filter":"datum.m=='MAX'"}],"mark":{"type":"circle","size":40,"fill":"#9a9a9a","fillOpacity":0.35,"stroke":"#555","strokeWidth":0.8,"strokeOpacity":0.8,"opacity":1},"encoding":{}},
{"data":{"name":"q"},"transform":[{"filter":"datum.m=='MAX'"}],"mark":{"type":"line","color":"#333","strokeWidth":2.2,"interpolate":"monotone","clip":true},"encoding":{"detail":{"field":"k","type":"nominal"}}}]}
]},
{"title":{"text":"RF","fontSize":30,"fontWeight":"bold","color":"#000","anchor":"middle","baseline":"middle","offset":-37,"dx":13},"spacing":86,"bounds":"flush","hconcat":[
{"width":221,"height":241,"title":{"text":"QQ plot residuals","fontSize":11.5,"fontWeight":"bold","color":"#222","frame":"group","baseline":"middle","offset":12},"encoding":{"x":{"field":"x","type":"quantitative","scale":{"domain":[-0.04,1.04],"nice":false,"zero":false},"axis":{"values":[0,0.2,0.4,0.6,0.8,1],"format":".1f","title":"Expected"}},"y":{"field":"y","type":"quantitative","scale":{"domain":[-0.04,1.04],"nice":false,"zero":false},"axis":{"values":[0,0.2,0.4,0.6,0.8,1],"format":".1f","title":"Observed"}}},"layer":[
{"data":{"name":"diag"},"mark":{"type":"line","color":"#e49a9a","strokeWidth":1.2},"encoding":{}},
{"data":{"name":"qq"},"transform":[{"filter":"datum.m=='RF'"}],"mark":{"type":"line","color":"#333","strokeWidth":3.2},"encoding":{}},
{"data":{"name":"t"},"transform":[{"filter":"datum.m=='RF'"}],"mark":{"type":"text","align":"left","baseline":"middle","fontSize":10.5,"color":"#444"},"encoding":{"text":{"field":"t"}}}]},
{"width":221,"height":241,"title":{"text":["Residual vs. predicted","Quantile deviations detected (red curves)","Combined adjusted quantile test significant"],"fontSize":9,"fontWeight":"bold","color":"#e8292b","frame":"group","baseline":"middle","offset":7,"lineHeight":11},"encoding":{"x":{"field":"x","type":"quantitative","scale":{"domain":[-0.04,1.04],"nice":false,"zero":false},"axis":{"values":[0,0.2,0.4,0.6,0.8,1],"format":".1f","title":"Model predictions (rank transformed)"}},"y":{"field":"y","type":"quantitative","scale":{"domain":[-0.04,1.04],"nice":false,"zero":false},"axis":{"values":[0,0.25,0.5,0.75,1],"format":".2f","title":"DHARMa residual"}}},"layer":[
{"data":{"name":"hl"},"mark":{"type":"line","color":"#f0a0a0","strokeDash":[2,3],"strokeWidth":1},"encoding":{"detail":{"field":"k","type":"nominal"}}},
{"data":{"name":"q"},"transform":[{"filter":"datum.m=='RF'"}],"mark":{"type":"area","color":"#bdbdbd","opacity":0.55,"interpolate":"monotone","clip":true},"encoding":{"y":{"field":"l","type":"quantitative","stack":null,"scale":{"domain":[-0.04,1.04],"nice":false,"zero":false},"axis":{"values":[0,0.25,0.5,0.75,1],"format":".2f","title":"DHARMa residual"}},"y2":{"field":"h"},"detail":{"field":"k","type":"nominal"}}},
{"data":{"name":"p"},"transform":[{"filter":"datum.m=='RF'"}],"mark":{"type":"circle","size":40,"fill":"#9a9a9a","fillOpacity":0.35,"stroke":"#555","strokeWidth":0.8,"strokeOpacity":0.8,"opacity":1},"encoding":{}},
{"data":{"name":"q"},"transform":[{"filter":"datum.m=='RF'"}],"mark":{"type":"line","color":"#dd3c3c","strokeWidth":2.2,"interpolate":"monotone","clip":true},"encoding":{"detail":{"field":"k","type":"nominal"}}}]}
]}
]}
]
}
